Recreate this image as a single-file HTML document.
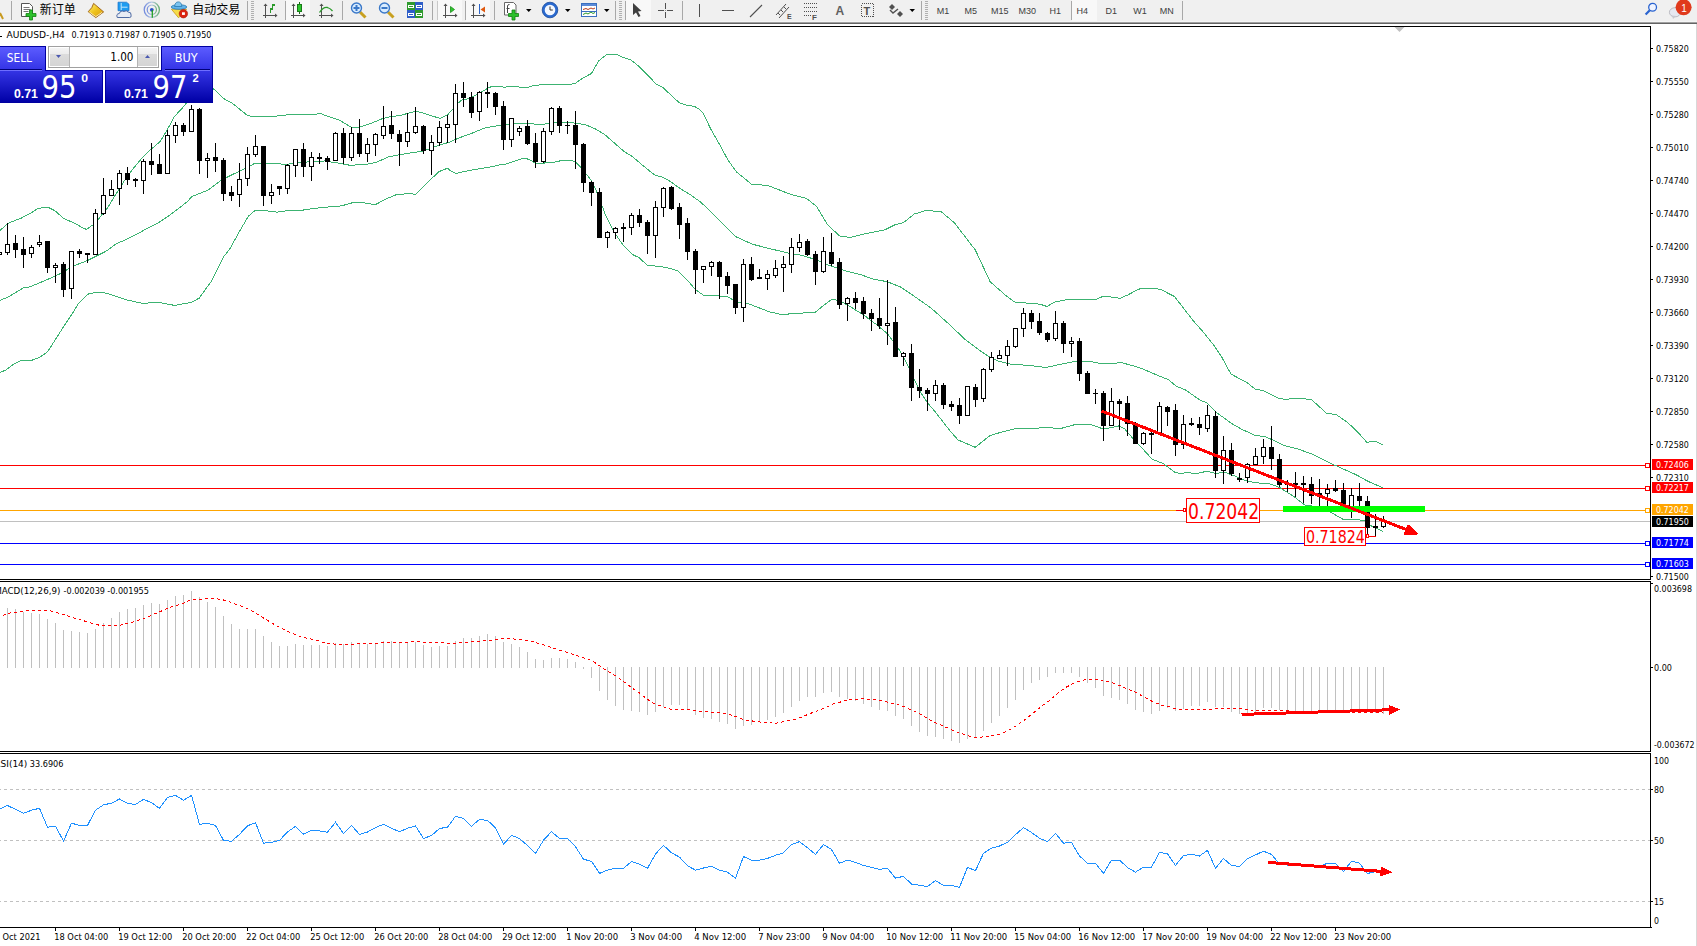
<!DOCTYPE html><html><head><meta charset="utf-8"><title>AUDUSD H4</title><style>html,body{margin:0;padding:0;background:#fff;overflow:hidden}body{width:1697px;height:946px}svg text{white-space:pre}</style></head><body><svg width="1697" height="946" viewBox="0 0 1697 946" shape-rendering="crispEdges" style="display:block">
<rect x="0" y="0" width="1697" height="946" fill="#fff"/>
<rect x="0" y="0" width="1697" height="21" fill="#f0f0f0"/>
<rect x="0" y="21" width="1697" height="1" fill="#f5f5f5"/>
<rect x="0" y="22" width="1697" height="1" fill="#a0a0a0"/>
<rect x="0" y="23" width="1697" height="1" fill="#646464"/>
<rect x="1696" y="24" width="1" height="922" fill="#d8d8d8"/>
<rect x="0" y="26" width="1651" height="1" fill="#000"/>
<rect x="1650" y="26" width="1" height="554" fill="#000"/>
<rect x="0" y="579" width="1651" height="1" fill="#000"/>
<rect x="0" y="581" width="1651" height="1" fill="#000"/>
<rect x="1650" y="581" width="1" height="171" fill="#000"/>
<rect x="0" y="751" width="1651" height="1" fill="#000"/>
<rect x="0" y="753" width="1651" height="1" fill="#000"/>
<rect x="1650" y="753" width="1" height="175" fill="#000"/>
<rect x="0" y="927" width="1652" height="1" fill="#000"/>
<defs><clipPath id="cm"><rect x="0" y="27" width="1650" height="552"/></clipPath><clipPath id="cd"><rect x="0" y="582" width="1650" height="169"/></clipPath><clipPath id="cr"><rect x="0" y="754" width="1650" height="173"/></clipPath></defs>
<g clip-path="url(#cm)">
<rect x="0" y="465" width="1650" height="1" fill="#ff0000"/>
<rect x="0" y="488" width="1650" height="1" fill="#ff0000"/>
<rect x="0" y="521" width="1650" height="1" fill="#c0c0c0"/>
<rect x="0" y="510" width="1650" height="1" fill="#ffa500"/>
<rect x="0" y="543" width="1650" height="1" fill="#0000ff"/>
<rect x="0" y="564" width="1650" height="1" fill="#0000ff"/>
<polyline points="0,230.4 7.7,223.6 15.3,220.3 20.6,218.6 24.7,216.2 30.6,213.3 37.7,208.6 43.6,207.4 48.3,207.4 54.8,210.6 63.1,218 66,219.5 76,223.9 81.3,227.1 86.6,229.5 91.9,225.3 94.3,224.5 99.6,217.6 107.2,208.4 115.4,195 123.8,181.5 132.3,169.6 140.7,159.5 149.2,151 156,145 160.1,141.6 167.2,129.8 174.3,116.8 179.6,110.9 184.9,105.3 191.5,94 199.5,87 207.5,85 215.1,90 223.3,98.4 232.9,103.7 247.7,115.7 251.9,116.4 274.7,116.3 290.9,114.5 314.8,114.5 320,113.1 325.8,115.7 339.8,120.3 351.4,127.3 358.4,127.3 370,123.8 382.1,118.8 390.5,116.7 400.1,115.5 416.2,111.1 425.5,113.8 439.9,118.4 447.5,115 450,112.2 457,104.1 461.6,100 468.6,98.8 475.6,95.3 482.6,91.3 489.5,87.2 494.2,86.3 500,86.6 504.7,87.2 511.6,86.3 516.3,86.6 522.1,87.6 529.1,87 533.7,85.5 550,84.1 570.2,84.3 575.4,83.4 579.6,80.1 585.3,76.8 591.4,73.5 594.7,67.8 598.9,60.7 606,55.1 607.9,54.3 616.4,54.3 622,57 630.5,59.8 636.2,64 643.7,71.1 651.3,78.7 656,84.3 662.6,87.1 673.9,98 679.5,102.7 686.1,105.1 694.6,106.5 700,109.8 702.7,112.7 711.1,129.6 719.6,144.4 728,160.2 736.5,171.9 751.3,184.1 768.2,185.6 791.5,194.7 806.3,198.3 816.8,206.7 827.4,224.7 840.1,236.3 850.6,237.4 863.3,234.2 884.5,230 895,224.7 903.5,222.6 914.1,214.1 926.7,210.3 941.5,212 954.2,222.6 975.4,250.1 990.2,281.8 1007.1,296.6 1015,302.2 1028.5,303.2 1040,304.2 1047.1,306.5 1054.1,302.1 1069.5,299.2 1096.6,299.2 1102.5,296.5 1107.2,296.5 1120.1,298.3 1128.4,294.7 1137.8,289.4 1142.5,288.3 1155.5,288.3 1161.4,289.8 1174.4,296.5 1181.4,305.4 1193.2,320.7 1202.7,331.4 1213.7,345.1 1222,357.5 1230.9,374 1237.1,377.4 1246.7,382.2 1255,389.1 1263.2,390.5 1278.4,398.3 1285.2,399.4 1296.2,398.3 1311.3,399.4 1326.5,413.2 1336.1,414.5 1347.1,422.1 1356.7,431 1367,442.4 1371.8,441.3 1375.9,441.3 1382.8,444.8" fill="none" stroke="#3cb371" stroke-width="1"/>
<polyline points="0,300.4 9.2,296.5 23,288.1 30.6,286.6 39.8,282.7 50.6,278.1 61.3,273.2 73.5,265.9 85.8,261.3 98.1,255.2 107.2,250.6 116.4,243.7 125.6,239.8 137.9,233.7 147.1,228.3 159.3,222.2 168.5,216.1 177.7,209.2 188.4,200.8 191.5,196.7 208.4,189.9 221.9,179.8 233.8,173.9 246.8,167.8 255.2,163.1 273.8,163.6 287.4,164.4 295.8,162.7 324.6,161 341.5,163.6 349.9,165.3 365.2,164.4 375.3,162.7 388.8,156.8 406.9,153.4 422.1,151.3 439,145.4 450,141.9 459.3,137.8 470.9,133.7 484.9,127.9 498.8,125.6 505.8,124.4 515.1,123.3 531.4,123.8 540,124.4 547,123.8 555.1,122.1 569.1,122.1 576,123.3 585.3,124.7 595.8,129.1 605.1,134.9 614.4,143 623.7,151.2 633,157 641.5,164.4 649.9,171.2 655.6,175.6 661.4,176.7 668.4,180.2 680,188.4 690.5,194.8 700.9,202.3 711.4,212.2 720.7,221.5 730,230.8 735.8,236.7 752.7,244.3 771.3,249 788.2,253.1 801.8,255.3 815.3,259.5 828.8,265.4 843.5,270.3 860.4,274.5 872.3,278.8 887.5,281.8 901,287.2 914.6,296.5 931.5,308.4 948.4,323.6 965.3,339.6 978.8,349.8 990,357.4 998.1,361 1011.6,364.4 1028.5,365.3 1045.5,367.5 1063.6,363.7 1075.4,361.3 1089.5,361.3 1101.3,363.7 1114.2,363.7 1120.1,362.2 1130,365 1133.5,365.9 1141.6,368.5 1149.8,372 1159.1,376 1168.4,379.5 1176.5,386.5 1180,387.7 1185.3,389.8 1200,400.1 1206.9,402.9 1216.5,412.5 1231.6,423.5 1241.2,429 1255,435.4 1264.6,436.5 1272.9,440 1285.2,445.9 1299,449.3 1312.7,454.4 1322.3,459.2 1329.6,462.9 1341.4,468.1 1356.2,474.8 1368.1,481.4 1382.9,487.8" fill="none" stroke="#3cb371" stroke-width="1"/>
<polyline points="0,372.5 6.3,369.8 13.7,364 21.1,360.6 31.7,360.3 39.1,357.7 47.6,351.8 56,338.6 63.4,327 71.9,314.3 78.2,303.7 87.7,294.2 92,293.2 100,292.1 107.2,293.5 116.4,296.5 125.6,299.6 142.5,303.4 157.8,302.3 174.7,305.4 191.5,302.3 199.2,298.1 211.4,281.2 223.7,256.7 229.8,249 239,232.2 248.5,216 255.2,210.4 267.1,210.9 277.2,212.1 290.7,210.1 300.9,210.4 314.4,208.4 331.3,206.7 341.5,205.9 355,202 365.2,203 375.3,204.7 385.5,199.1 396.8,194.5 410.3,193.6 415.4,194.5 423.8,186 439,171.6 447.5,168.2 450,170.3 455.8,173.6 465.1,171.3 480.2,168.6 490.7,166.9 498.8,165.1 505.8,164 512.8,161.6 519.8,159.3 525.6,158.1 531.4,160.8 536,163.4 540,163.4 554,162.2 563.3,160.2 570.2,160.2 574.9,161.6 580.7,167.4 586.5,174.4 591.2,180.2 594.7,187.2 598.1,195.3 601.6,204.7 605.9,216 613.5,231 622,243.7 632.1,254.3 638.9,257.6 647.4,265.3 659.2,266.4 667.7,267.8 677.8,270.8 688.8,281.8 695.6,289.8 703.7,295.3 727.4,296.4 735.8,301.8 747.7,303.5 769.6,311.9 781.5,314.5 798.4,313.3 815.3,312.3 823.8,305.2 832.2,299.2 840,300.9 850.3,306.7 863.8,315.1 877.4,325.3 887.5,333.7 900,351 907,363.7 914,378.8 920.9,392.8 927.9,403.3 934.9,411.4 943,421.9 951.2,432.3 958.1,440 975.3,447.3 989.6,435.8 1001.5,432.1 1015,428.7 1031.9,428.7 1045.5,427.3 1060,428.7 1075.4,424.5 1092.3,425 1103.3,429 1110.2,427.8 1118.4,426 1124.2,428.4 1128.8,433.6 1134.7,440.6 1140.5,446.4 1152.1,459.2 1163.7,463.8 1175.3,472.6 1180.9,473.5 1186.8,472.6 1196.1,473.5 1201.2,472.5 1207.1,471.2 1215.6,473.3 1225.4,472.5 1235.5,476.3 1244.4,480.1 1254.5,482.6 1271,484.1 1279.9,487.7 1293.9,496.6 1305.3,505.4 1308.9,505.1 1322.2,509.5 1331.1,512.5 1342.9,519.2 1359.2,519.9 1366.6,521.4 1371,525.8 1382.9,531.3" fill="none" stroke="#3cb371" stroke-width="1"/>
<rect x="-1" y="252" width="1" height="3" fill="#000"/>
<rect x="-3" y="252" width="5" height="3" fill="#000"/>
<rect x="-2" y="253" width="3" height="1" fill="#fff"/>
<rect x="7" y="223" width="1" height="32" fill="#000"/>
<rect x="5" y="244" width="5" height="9" fill="#000"/>
<rect x="6" y="245" width="3" height="7" fill="#fff"/>
<rect x="15" y="235" width="1" height="23" fill="#000"/>
<rect x="13" y="243" width="5" height="7" fill="#000"/>
<rect x="23" y="237" width="1" height="31" fill="#000"/>
<rect x="21" y="249" width="5" height="6" fill="#000"/>
<rect x="31" y="245" width="1" height="13" fill="#000"/>
<rect x="29" y="247" width="5" height="7" fill="#000"/>
<rect x="30" y="248" width="3" height="5" fill="#fff"/>
<rect x="39" y="235" width="1" height="12" fill="#000"/>
<rect x="37" y="242" width="5" height="3" fill="#000"/>
<rect x="38" y="243" width="3" height="1" fill="#fff"/>
<rect x="47" y="241" width="1" height="32" fill="#000"/>
<rect x="45" y="241" width="5" height="27" fill="#000"/>
<rect x="55" y="263" width="1" height="20" fill="#000"/>
<rect x="53" y="265" width="5" height="3" fill="#000"/>
<rect x="54" y="266" width="3" height="1" fill="#fff"/>
<rect x="63" y="262" width="1" height="35" fill="#000"/>
<rect x="61" y="264" width="5" height="26" fill="#000"/>
<rect x="71" y="251" width="1" height="48" fill="#000"/>
<rect x="69" y="251" width="5" height="38" fill="#000"/>
<rect x="70" y="252" width="3" height="36" fill="#fff"/>
<rect x="79" y="249" width="1" height="9" fill="#000"/>
<rect x="77" y="251" width="5" height="3" fill="#000"/>
<rect x="87" y="253" width="1" height="10" fill="#000"/>
<rect x="85" y="253" width="5" height="2" fill="#000"/>
<rect x="95" y="209" width="1" height="46" fill="#000"/>
<rect x="93" y="213" width="5" height="42" fill="#000"/>
<rect x="94" y="214" width="3" height="40" fill="#fff"/>
<rect x="103" y="178" width="1" height="37" fill="#000"/>
<rect x="101" y="195" width="5" height="19" fill="#000"/>
<rect x="102" y="196" width="3" height="17" fill="#fff"/>
<rect x="111" y="180" width="1" height="16" fill="#000"/>
<rect x="109" y="189" width="5" height="7" fill="#000"/>
<rect x="110" y="190" width="3" height="5" fill="#fff"/>
<rect x="119" y="170" width="1" height="35" fill="#000"/>
<rect x="117" y="173" width="5" height="16" fill="#000"/>
<rect x="118" y="174" width="3" height="14" fill="#fff"/>
<rect x="127" y="167" width="1" height="18" fill="#000"/>
<rect x="125" y="173" width="5" height="7" fill="#000"/>
<rect x="135" y="178" width="1" height="9" fill="#000"/>
<rect x="133" y="179" width="5" height="2" fill="#000"/>
<rect x="143" y="159" width="1" height="35" fill="#000"/>
<rect x="141" y="161" width="5" height="20" fill="#000"/>
<rect x="142" y="162" width="3" height="18" fill="#fff"/>
<rect x="151" y="143" width="1" height="32" fill="#000"/>
<rect x="149" y="161" width="5" height="4" fill="#000"/>
<rect x="159" y="154" width="1" height="20" fill="#000"/>
<rect x="157" y="164" width="5" height="10" fill="#000"/>
<rect x="167" y="130" width="1" height="44" fill="#000"/>
<rect x="165" y="135" width="5" height="39" fill="#000"/>
<rect x="166" y="136" width="3" height="37" fill="#fff"/>
<rect x="175" y="122" width="1" height="21" fill="#000"/>
<rect x="173" y="125" width="5" height="11" fill="#000"/>
<rect x="174" y="126" width="3" height="9" fill="#fff"/>
<rect x="183" y="123" width="1" height="13" fill="#000"/>
<rect x="181" y="125" width="5" height="7" fill="#000"/>
<rect x="191" y="105" width="1" height="27" fill="#000"/>
<rect x="189" y="109" width="5" height="23" fill="#000"/>
<rect x="190" y="110" width="3" height="21" fill="#fff"/>
<rect x="199" y="108" width="1" height="66" fill="#000"/>
<rect x="197" y="109" width="5" height="52" fill="#000"/>
<rect x="207" y="153" width="1" height="25" fill="#000"/>
<rect x="205" y="158" width="5" height="3" fill="#000"/>
<rect x="206" y="159" width="3" height="1" fill="#fff"/>
<rect x="215" y="143" width="1" height="29" fill="#000"/>
<rect x="213" y="157" width="5" height="4" fill="#000"/>
<rect x="223" y="158" width="1" height="43" fill="#000"/>
<rect x="221" y="160" width="5" height="34" fill="#000"/>
<rect x="231" y="186" width="1" height="15" fill="#000"/>
<rect x="229" y="192" width="5" height="4" fill="#000"/>
<rect x="239" y="163" width="1" height="44" fill="#000"/>
<rect x="237" y="179" width="5" height="16" fill="#000"/>
<rect x="238" y="180" width="3" height="14" fill="#fff"/>
<rect x="247" y="147" width="1" height="39" fill="#000"/>
<rect x="245" y="154" width="5" height="25" fill="#000"/>
<rect x="246" y="155" width="3" height="23" fill="#fff"/>
<rect x="255" y="135" width="1" height="22" fill="#000"/>
<rect x="253" y="146" width="5" height="9" fill="#000"/>
<rect x="254" y="147" width="3" height="7" fill="#fff"/>
<rect x="263" y="146" width="1" height="60" fill="#000"/>
<rect x="261" y="146" width="5" height="50" fill="#000"/>
<rect x="271" y="184" width="1" height="20" fill="#000"/>
<rect x="269" y="192" width="5" height="4" fill="#000"/>
<rect x="270" y="193" width="3" height="2" fill="#fff"/>
<rect x="279" y="186" width="1" height="9" fill="#000"/>
<rect x="277" y="186" width="5" height="3" fill="#000"/>
<rect x="287" y="164" width="1" height="30" fill="#000"/>
<rect x="285" y="165" width="5" height="24" fill="#000"/>
<rect x="286" y="166" width="3" height="22" fill="#fff"/>
<rect x="295" y="149" width="1" height="28" fill="#000"/>
<rect x="293" y="149" width="5" height="17" fill="#000"/>
<rect x="294" y="150" width="3" height="15" fill="#fff"/>
<rect x="303" y="143" width="1" height="34" fill="#000"/>
<rect x="301" y="149" width="5" height="18" fill="#000"/>
<rect x="311" y="152" width="1" height="29" fill="#000"/>
<rect x="309" y="157" width="5" height="10" fill="#000"/>
<rect x="310" y="158" width="3" height="8" fill="#fff"/>
<rect x="319" y="153" width="1" height="11" fill="#000"/>
<rect x="317" y="157" width="5" height="2" fill="#000"/>
<rect x="327" y="156" width="1" height="14" fill="#000"/>
<rect x="325" y="158" width="5" height="4" fill="#000"/>
<rect x="335" y="132" width="1" height="29" fill="#000"/>
<rect x="333" y="133" width="5" height="28" fill="#000"/>
<rect x="334" y="134" width="3" height="26" fill="#fff"/>
<rect x="343" y="128" width="1" height="36" fill="#000"/>
<rect x="341" y="133" width="5" height="25" fill="#000"/>
<rect x="351" y="127" width="1" height="34" fill="#000"/>
<rect x="349" y="133" width="5" height="25" fill="#000"/>
<rect x="350" y="134" width="3" height="23" fill="#fff"/>
<rect x="359" y="119" width="1" height="38" fill="#000"/>
<rect x="357" y="133" width="5" height="21" fill="#000"/>
<rect x="367" y="138" width="1" height="24" fill="#000"/>
<rect x="365" y="144" width="5" height="10" fill="#000"/>
<rect x="366" y="145" width="3" height="8" fill="#fff"/>
<rect x="375" y="133" width="1" height="23" fill="#000"/>
<rect x="373" y="134" width="5" height="11" fill="#000"/>
<rect x="374" y="135" width="3" height="9" fill="#fff"/>
<rect x="383" y="106" width="1" height="33" fill="#000"/>
<rect x="381" y="126" width="5" height="10" fill="#000"/>
<rect x="382" y="127" width="3" height="8" fill="#fff"/>
<rect x="391" y="111" width="1" height="28" fill="#000"/>
<rect x="389" y="125" width="5" height="9" fill="#000"/>
<rect x="399" y="130" width="1" height="36" fill="#000"/>
<rect x="397" y="134" width="5" height="8" fill="#000"/>
<rect x="407" y="113" width="1" height="34" fill="#000"/>
<rect x="405" y="132" width="5" height="10" fill="#000"/>
<rect x="406" y="133" width="3" height="8" fill="#fff"/>
<rect x="415" y="107" width="1" height="27" fill="#000"/>
<rect x="413" y="126" width="5" height="7" fill="#000"/>
<rect x="414" y="127" width="3" height="5" fill="#fff"/>
<rect x="423" y="125" width="1" height="29" fill="#000"/>
<rect x="421" y="126" width="5" height="25" fill="#000"/>
<rect x="431" y="135" width="1" height="40" fill="#000"/>
<rect x="429" y="142" width="5" height="9" fill="#000"/>
<rect x="430" y="143" width="3" height="7" fill="#fff"/>
<rect x="439" y="121" width="1" height="25" fill="#000"/>
<rect x="437" y="127" width="5" height="16" fill="#000"/>
<rect x="438" y="128" width="3" height="14" fill="#fff"/>
<rect x="447" y="115" width="1" height="28" fill="#000"/>
<rect x="445" y="124" width="5" height="4" fill="#000"/>
<rect x="446" y="125" width="3" height="2" fill="#fff"/>
<rect x="455" y="84" width="1" height="59" fill="#000"/>
<rect x="453" y="93" width="5" height="32" fill="#000"/>
<rect x="454" y="94" width="3" height="30" fill="#fff"/>
<rect x="463" y="82" width="1" height="25" fill="#000"/>
<rect x="461" y="93" width="5" height="5" fill="#000"/>
<rect x="471" y="92" width="1" height="26" fill="#000"/>
<rect x="469" y="97" width="5" height="16" fill="#000"/>
<rect x="479" y="91" width="1" height="30" fill="#000"/>
<rect x="477" y="92" width="5" height="20" fill="#000"/>
<rect x="478" y="93" width="3" height="18" fill="#fff"/>
<rect x="487" y="82" width="1" height="26" fill="#000"/>
<rect x="485" y="92" width="5" height="2" fill="#000"/>
<rect x="495" y="92" width="1" height="23" fill="#000"/>
<rect x="493" y="93" width="5" height="14" fill="#000"/>
<rect x="503" y="101" width="1" height="49" fill="#000"/>
<rect x="501" y="106" width="5" height="34" fill="#000"/>
<rect x="511" y="118" width="1" height="29" fill="#000"/>
<rect x="509" y="118" width="5" height="22" fill="#000"/>
<rect x="510" y="119" width="3" height="20" fill="#fff"/>
<rect x="519" y="126" width="1" height="10" fill="#000"/>
<rect x="517" y="128" width="5" height="4" fill="#000"/>
<rect x="518" y="129" width="3" height="2" fill="#fff"/>
<rect x="527" y="120" width="1" height="25" fill="#000"/>
<rect x="525" y="126" width="5" height="18" fill="#000"/>
<rect x="535" y="133" width="1" height="35" fill="#000"/>
<rect x="533" y="143" width="5" height="19" fill="#000"/>
<rect x="543" y="128" width="1" height="35" fill="#000"/>
<rect x="541" y="131" width="5" height="31" fill="#000"/>
<rect x="542" y="132" width="3" height="29" fill="#fff"/>
<rect x="551" y="107" width="1" height="28" fill="#000"/>
<rect x="549" y="108" width="5" height="24" fill="#000"/>
<rect x="550" y="109" width="3" height="22" fill="#fff"/>
<rect x="559" y="106" width="1" height="27" fill="#000"/>
<rect x="557" y="108" width="5" height="18" fill="#000"/>
<rect x="567" y="121" width="1" height="13" fill="#000"/>
<rect x="565" y="125" width="5" height="1" fill="#000"/>
<rect x="575" y="111" width="1" height="58" fill="#000"/>
<rect x="573" y="125" width="5" height="20" fill="#000"/>
<rect x="583" y="143" width="1" height="49" fill="#000"/>
<rect x="581" y="144" width="5" height="39" fill="#000"/>
<rect x="591" y="181" width="1" height="25" fill="#000"/>
<rect x="589" y="182" width="5" height="11" fill="#000"/>
<rect x="599" y="188" width="1" height="50" fill="#000"/>
<rect x="597" y="192" width="5" height="46" fill="#000"/>
<rect x="607" y="231" width="1" height="17" fill="#000"/>
<rect x="605" y="232" width="5" height="6" fill="#000"/>
<rect x="606" y="233" width="3" height="4" fill="#fff"/>
<rect x="615" y="227" width="1" height="12" fill="#000"/>
<rect x="613" y="228" width="5" height="5" fill="#000"/>
<rect x="614" y="229" width="3" height="3" fill="#fff"/>
<rect x="623" y="223" width="1" height="19" fill="#000"/>
<rect x="621" y="227" width="5" height="2" fill="#000"/>
<rect x="631" y="213" width="1" height="22" fill="#000"/>
<rect x="629" y="215" width="5" height="13" fill="#000"/>
<rect x="630" y="216" width="3" height="11" fill="#fff"/>
<rect x="639" y="209" width="1" height="18" fill="#000"/>
<rect x="637" y="215" width="5" height="8" fill="#000"/>
<rect x="647" y="220" width="1" height="34" fill="#000"/>
<rect x="645" y="222" width="5" height="14" fill="#000"/>
<rect x="655" y="201" width="1" height="57" fill="#000"/>
<rect x="653" y="207" width="5" height="29" fill="#000"/>
<rect x="654" y="208" width="3" height="27" fill="#fff"/>
<rect x="663" y="187" width="1" height="30" fill="#000"/>
<rect x="661" y="188" width="5" height="20" fill="#000"/>
<rect x="662" y="189" width="3" height="18" fill="#fff"/>
<rect x="671" y="186" width="1" height="24" fill="#000"/>
<rect x="669" y="187" width="5" height="22" fill="#000"/>
<rect x="679" y="203" width="1" height="36" fill="#000"/>
<rect x="677" y="207" width="5" height="18" fill="#000"/>
<rect x="687" y="218" width="1" height="42" fill="#000"/>
<rect x="685" y="223" width="5" height="29" fill="#000"/>
<rect x="695" y="249" width="1" height="45" fill="#000"/>
<rect x="693" y="251" width="5" height="19" fill="#000"/>
<rect x="703" y="266" width="1" height="17" fill="#000"/>
<rect x="701" y="266" width="5" height="4" fill="#000"/>
<rect x="702" y="267" width="3" height="2" fill="#fff"/>
<rect x="711" y="261" width="1" height="15" fill="#000"/>
<rect x="709" y="262" width="5" height="5" fill="#000"/>
<rect x="710" y="263" width="3" height="3" fill="#fff"/>
<rect x="719" y="261" width="1" height="38" fill="#000"/>
<rect x="717" y="262" width="5" height="15" fill="#000"/>
<rect x="727" y="272" width="1" height="22" fill="#000"/>
<rect x="725" y="276" width="5" height="10" fill="#000"/>
<rect x="735" y="284" width="1" height="30" fill="#000"/>
<rect x="733" y="284" width="5" height="24" fill="#000"/>
<rect x="743" y="259" width="1" height="63" fill="#000"/>
<rect x="741" y="264" width="5" height="44" fill="#000"/>
<rect x="742" y="265" width="3" height="42" fill="#fff"/>
<rect x="751" y="257" width="1" height="24" fill="#000"/>
<rect x="749" y="264" width="5" height="16" fill="#000"/>
<rect x="759" y="269" width="1" height="10" fill="#000"/>
<rect x="757" y="277" width="5" height="2" fill="#000"/>
<rect x="767" y="270" width="1" height="20" fill="#000"/>
<rect x="765" y="274" width="5" height="5" fill="#000"/>
<rect x="766" y="275" width="3" height="3" fill="#fff"/>
<rect x="775" y="260" width="1" height="18" fill="#000"/>
<rect x="773" y="268" width="5" height="8" fill="#000"/>
<rect x="774" y="269" width="3" height="6" fill="#fff"/>
<rect x="783" y="256" width="1" height="36" fill="#000"/>
<rect x="781" y="264" width="5" height="4" fill="#000"/>
<rect x="782" y="265" width="3" height="2" fill="#fff"/>
<rect x="791" y="238" width="1" height="35" fill="#000"/>
<rect x="789" y="247" width="5" height="18" fill="#000"/>
<rect x="790" y="248" width="3" height="16" fill="#fff"/>
<rect x="799" y="234" width="1" height="18" fill="#000"/>
<rect x="797" y="242" width="5" height="6" fill="#000"/>
<rect x="798" y="243" width="3" height="4" fill="#fff"/>
<rect x="807" y="239" width="1" height="17" fill="#000"/>
<rect x="805" y="241" width="5" height="14" fill="#000"/>
<rect x="815" y="251" width="1" height="34" fill="#000"/>
<rect x="813" y="254" width="5" height="18" fill="#000"/>
<rect x="823" y="237" width="1" height="36" fill="#000"/>
<rect x="821" y="251" width="5" height="21" fill="#000"/>
<rect x="822" y="252" width="3" height="19" fill="#fff"/>
<rect x="831" y="233" width="1" height="33" fill="#000"/>
<rect x="829" y="252" width="5" height="12" fill="#000"/>
<rect x="839" y="258" width="1" height="51" fill="#000"/>
<rect x="837" y="262" width="5" height="43" fill="#000"/>
<rect x="847" y="297" width="1" height="24" fill="#000"/>
<rect x="845" y="298" width="5" height="6" fill="#000"/>
<rect x="846" y="299" width="3" height="4" fill="#fff"/>
<rect x="855" y="292" width="1" height="17" fill="#000"/>
<rect x="853" y="298" width="5" height="5" fill="#000"/>
<rect x="863" y="297" width="1" height="22" fill="#000"/>
<rect x="861" y="301" width="5" height="13" fill="#000"/>
<rect x="871" y="309" width="1" height="22" fill="#000"/>
<rect x="869" y="313" width="5" height="6" fill="#000"/>
<rect x="879" y="298" width="1" height="31" fill="#000"/>
<rect x="877" y="318" width="5" height="8" fill="#000"/>
<rect x="887" y="280" width="1" height="65" fill="#000"/>
<rect x="885" y="323" width="5" height="3" fill="#000"/>
<rect x="886" y="324" width="3" height="1" fill="#fff"/>
<rect x="895" y="307" width="1" height="50" fill="#000"/>
<rect x="893" y="322" width="5" height="35" fill="#000"/>
<rect x="903" y="352" width="1" height="14" fill="#000"/>
<rect x="901" y="353" width="5" height="4" fill="#000"/>
<rect x="902" y="354" width="3" height="2" fill="#fff"/>
<rect x="911" y="344" width="1" height="57" fill="#000"/>
<rect x="909" y="353" width="5" height="35" fill="#000"/>
<rect x="919" y="369" width="1" height="29" fill="#000"/>
<rect x="917" y="387" width="5" height="4" fill="#000"/>
<rect x="927" y="388" width="1" height="23" fill="#000"/>
<rect x="925" y="390" width="5" height="4" fill="#000"/>
<rect x="935" y="380" width="1" height="21" fill="#000"/>
<rect x="933" y="385" width="5" height="9" fill="#000"/>
<rect x="934" y="386" width="3" height="7" fill="#fff"/>
<rect x="943" y="383" width="1" height="26" fill="#000"/>
<rect x="941" y="385" width="5" height="20" fill="#000"/>
<rect x="951" y="401" width="1" height="10" fill="#000"/>
<rect x="949" y="404" width="5" height="3" fill="#000"/>
<rect x="959" y="398" width="1" height="26" fill="#000"/>
<rect x="957" y="405" width="5" height="11" fill="#000"/>
<rect x="967" y="386" width="1" height="30" fill="#000"/>
<rect x="965" y="386" width="5" height="30" fill="#000"/>
<rect x="966" y="387" width="3" height="28" fill="#fff"/>
<rect x="975" y="384" width="1" height="23" fill="#000"/>
<rect x="973" y="387" width="5" height="13" fill="#000"/>
<rect x="983" y="368" width="1" height="34" fill="#000"/>
<rect x="981" y="369" width="5" height="30" fill="#000"/>
<rect x="982" y="370" width="3" height="28" fill="#fff"/>
<rect x="991" y="352" width="1" height="20" fill="#000"/>
<rect x="989" y="357" width="5" height="13" fill="#000"/>
<rect x="990" y="358" width="3" height="11" fill="#fff"/>
<rect x="999" y="350" width="1" height="9" fill="#000"/>
<rect x="997" y="355" width="5" height="4" fill="#000"/>
<rect x="998" y="356" width="3" height="2" fill="#fff"/>
<rect x="1007" y="340" width="1" height="26" fill="#000"/>
<rect x="1005" y="346" width="5" height="10" fill="#000"/>
<rect x="1006" y="347" width="3" height="8" fill="#fff"/>
<rect x="1015" y="328" width="1" height="20" fill="#000"/>
<rect x="1013" y="328" width="5" height="19" fill="#000"/>
<rect x="1014" y="329" width="3" height="17" fill="#fff"/>
<rect x="1023" y="308" width="1" height="29" fill="#000"/>
<rect x="1021" y="313" width="5" height="16" fill="#000"/>
<rect x="1022" y="314" width="3" height="14" fill="#fff"/>
<rect x="1031" y="310" width="1" height="19" fill="#000"/>
<rect x="1029" y="313" width="5" height="9" fill="#000"/>
<rect x="1039" y="313" width="1" height="22" fill="#000"/>
<rect x="1037" y="321" width="5" height="12" fill="#000"/>
<rect x="1047" y="332" width="1" height="10" fill="#000"/>
<rect x="1045" y="333" width="5" height="7" fill="#000"/>
<rect x="1055" y="311" width="1" height="30" fill="#000"/>
<rect x="1053" y="323" width="5" height="16" fill="#000"/>
<rect x="1054" y="324" width="3" height="14" fill="#fff"/>
<rect x="1063" y="321" width="1" height="32" fill="#000"/>
<rect x="1061" y="323" width="5" height="21" fill="#000"/>
<rect x="1071" y="337" width="1" height="20" fill="#000"/>
<rect x="1069" y="341" width="5" height="3" fill="#000"/>
<rect x="1070" y="342" width="3" height="1" fill="#fff"/>
<rect x="1079" y="338" width="1" height="43" fill="#000"/>
<rect x="1077" y="341" width="5" height="33" fill="#000"/>
<rect x="1087" y="371" width="1" height="23" fill="#000"/>
<rect x="1085" y="373" width="5" height="21" fill="#000"/>
<rect x="1095" y="389" width="1" height="15" fill="#000"/>
<rect x="1093" y="393" width="5" height="1" fill="#000"/>
<rect x="1103" y="391" width="1" height="50" fill="#000"/>
<rect x="1101" y="393" width="5" height="33" fill="#000"/>
<rect x="1111" y="388" width="1" height="38" fill="#000"/>
<rect x="1109" y="401" width="5" height="25" fill="#000"/>
<rect x="1110" y="402" width="3" height="23" fill="#fff"/>
<rect x="1119" y="399" width="1" height="31" fill="#000"/>
<rect x="1117" y="401" width="5" height="3" fill="#000"/>
<rect x="1127" y="396" width="1" height="40" fill="#000"/>
<rect x="1125" y="403" width="5" height="21" fill="#000"/>
<rect x="1135" y="422" width="1" height="22" fill="#000"/>
<rect x="1133" y="423" width="5" height="21" fill="#000"/>
<rect x="1143" y="432" width="1" height="13" fill="#000"/>
<rect x="1141" y="433" width="5" height="11" fill="#000"/>
<rect x="1142" y="434" width="3" height="9" fill="#fff"/>
<rect x="1151" y="431" width="1" height="23" fill="#000"/>
<rect x="1149" y="433" width="5" height="2" fill="#000"/>
<rect x="1159" y="402" width="1" height="31" fill="#000"/>
<rect x="1157" y="406" width="5" height="27" fill="#000"/>
<rect x="1158" y="407" width="3" height="25" fill="#fff"/>
<rect x="1167" y="406" width="1" height="20" fill="#000"/>
<rect x="1165" y="407" width="5" height="5" fill="#000"/>
<rect x="1175" y="404" width="1" height="52" fill="#000"/>
<rect x="1173" y="410" width="5" height="35" fill="#000"/>
<rect x="1183" y="415" width="1" height="34" fill="#000"/>
<rect x="1181" y="424" width="5" height="21" fill="#000"/>
<rect x="1182" y="425" width="3" height="19" fill="#fff"/>
<rect x="1191" y="418" width="1" height="8" fill="#000"/>
<rect x="1189" y="423" width="5" height="2" fill="#000"/>
<rect x="1199" y="417" width="1" height="18" fill="#000"/>
<rect x="1197" y="424" width="5" height="4" fill="#000"/>
<rect x="1207" y="405" width="1" height="27" fill="#000"/>
<rect x="1205" y="415" width="5" height="14" fill="#000"/>
<rect x="1206" y="416" width="3" height="12" fill="#fff"/>
<rect x="1215" y="411" width="1" height="67" fill="#000"/>
<rect x="1213" y="416" width="5" height="55" fill="#000"/>
<rect x="1223" y="436" width="1" height="48" fill="#000"/>
<rect x="1221" y="450" width="5" height="21" fill="#000"/>
<rect x="1222" y="451" width="3" height="19" fill="#fff"/>
<rect x="1231" y="443" width="1" height="33" fill="#000"/>
<rect x="1229" y="450" width="5" height="24" fill="#000"/>
<rect x="1239" y="473" width="1" height="9" fill="#000"/>
<rect x="1237" y="478" width="5" height="2" fill="#000"/>
<rect x="1247" y="463" width="1" height="20" fill="#000"/>
<rect x="1245" y="464" width="5" height="14" fill="#000"/>
<rect x="1246" y="465" width="3" height="12" fill="#fff"/>
<rect x="1255" y="448" width="1" height="17" fill="#000"/>
<rect x="1253" y="456" width="5" height="9" fill="#000"/>
<rect x="1254" y="457" width="3" height="7" fill="#fff"/>
<rect x="1263" y="439" width="1" height="25" fill="#000"/>
<rect x="1261" y="447" width="5" height="10" fill="#000"/>
<rect x="1262" y="448" width="3" height="8" fill="#fff"/>
<rect x="1271" y="426" width="1" height="44" fill="#000"/>
<rect x="1269" y="447" width="5" height="12" fill="#000"/>
<rect x="1279" y="454" width="1" height="33" fill="#000"/>
<rect x="1277" y="459" width="5" height="26" fill="#000"/>
<rect x="1287" y="480" width="1" height="12" fill="#000"/>
<rect x="1285" y="483" width="5" height="2" fill="#000"/>
<rect x="1295" y="472" width="1" height="25" fill="#000"/>
<rect x="1293" y="483" width="5" height="2" fill="#000"/>
<rect x="1303" y="476" width="1" height="27" fill="#000"/>
<rect x="1301" y="483" width="5" height="2" fill="#000"/>
<rect x="1311" y="477" width="1" height="27" fill="#000"/>
<rect x="1309" y="484" width="5" height="12" fill="#000"/>
<rect x="1319" y="479" width="1" height="27" fill="#000"/>
<rect x="1317" y="493" width="5" height="2" fill="#000"/>
<rect x="1327" y="484" width="1" height="22" fill="#000"/>
<rect x="1325" y="489" width="5" height="5" fill="#000"/>
<rect x="1326" y="490" width="3" height="3" fill="#fff"/>
<rect x="1335" y="480" width="1" height="12" fill="#000"/>
<rect x="1333" y="488" width="5" height="3" fill="#000"/>
<rect x="1343" y="483" width="1" height="23" fill="#000"/>
<rect x="1341" y="490" width="5" height="15" fill="#000"/>
<rect x="1351" y="488" width="1" height="30" fill="#000"/>
<rect x="1349" y="495" width="5" height="13" fill="#000"/>
<rect x="1350" y="496" width="3" height="11" fill="#fff"/>
<rect x="1359" y="483" width="1" height="23" fill="#000"/>
<rect x="1357" y="496" width="5" height="5" fill="#000"/>
<rect x="1367" y="496" width="1" height="39" fill="#000"/>
<rect x="1365" y="501" width="5" height="27" fill="#000"/>
<rect x="1375" y="514" width="1" height="23" fill="#000"/>
<rect x="1373" y="526" width="5" height="2" fill="#000"/>
<rect x="1383" y="516" width="1" height="12" fill="#000"/>
<rect x="1381" y="520" width="5" height="7" fill="#000"/>
<rect x="1382" y="521" width="3" height="5" fill="#fff"/>
<rect x="1645.5" y="463.5" width="4" height="4" fill="#fff" stroke="#ff0000" stroke-width="1"/>
<rect x="1645.5" y="486.5" width="4" height="4" fill="#fff" stroke="#ff0000" stroke-width="1"/>
<rect x="1645.5" y="508.5" width="4" height="4" fill="#fff" stroke="#ffa500" stroke-width="1"/>
<rect x="1645.5" y="541.5" width="4" height="4" fill="#fff" stroke="#0000ff" stroke-width="1"/>
<rect x="1645.5" y="562.5" width="4" height="4" fill="#fff" stroke="#0000ff" stroke-width="1"/>
<rect x="1283" y="506" width="142" height="6" fill="#00ff00"/>
<rect x="1176" y="510" width="8" height="1" fill="#ff0000"/>
<rect x="1183.5" y="508.5" width="2" height="3" fill="#fff" stroke="#ff0000" stroke-width="1"/>
<rect x="1186.5" y="498.5" width="73" height="24" fill="#fff" stroke="#ff0000" stroke-width="1"/>
<text x="1188" y="519" font-family='"DejaVu Sans Condensed", "DejaVu Sans", sans-serif' font-size="21.8" fill="#ff0000" text-anchor="start" textLength="71.2" lengthAdjust="spacingAndGlyphs">0.72042</text>
<rect x="1304.5" y="527.5" width="61" height="18" fill="#fff" stroke="#ff0000" stroke-width="1"/>
<text x="1306" y="542.5" font-family='"DejaVu Sans Condensed", "DejaVu Sans", sans-serif' font-size="18" fill="#ff0000" text-anchor="start" textLength="58.8" lengthAdjust="spacingAndGlyphs">0.71824</text>
<rect x="1366.5" y="534.5" width="2" height="3" fill="#fff" stroke="#ff0000" stroke-width="1"/>
<rect x="1369" y="536" width="7" height="1" fill="#ff0000"/>
<g>
<line x1="1101.6" y1="411" x2="1410" y2="531" stroke="#ff0000" stroke-width="3"/>
<polygon points="1407.5,524.8 1409.5,524.8 1417.8,533.5 1416.3,535.2 1404.5,535.2 1403.5,533.8" fill="#ff0000"/>
</g>
</g>
<polygon points="1394.5,27 1404.5,27 1399.5,32" fill="#c0c0c0" shape-rendering="auto"/>
<rect x="1651" y="48" width="2" height="1" fill="#000"/>
<text x="1656" y="52" font-family='"DejaVu Sans Condensed", "DejaVu Sans", sans-serif' font-size="9.1" fill="#000" text-anchor="start" textLength="32.8" lengthAdjust="spacingAndGlyphs">0.75820</text>
<rect x="1651" y="81" width="2" height="1" fill="#000"/>
<text x="1656" y="85" font-family='"DejaVu Sans Condensed", "DejaVu Sans", sans-serif' font-size="9.1" fill="#000" text-anchor="start" textLength="32.8" lengthAdjust="spacingAndGlyphs">0.75550</text>
<rect x="1651" y="114" width="2" height="1" fill="#000"/>
<text x="1656" y="118" font-family='"DejaVu Sans Condensed", "DejaVu Sans", sans-serif' font-size="9.1" fill="#000" text-anchor="start" textLength="32.8" lengthAdjust="spacingAndGlyphs">0.75280</text>
<rect x="1651" y="147" width="2" height="1" fill="#000"/>
<text x="1656" y="151" font-family='"DejaVu Sans Condensed", "DejaVu Sans", sans-serif' font-size="9.1" fill="#000" text-anchor="start" textLength="32.8" lengthAdjust="spacingAndGlyphs">0.75010</text>
<rect x="1651" y="180" width="2" height="1" fill="#000"/>
<text x="1656" y="184" font-family='"DejaVu Sans Condensed", "DejaVu Sans", sans-serif' font-size="9.1" fill="#000" text-anchor="start" textLength="32.8" lengthAdjust="spacingAndGlyphs">0.74740</text>
<rect x="1651" y="213" width="2" height="1" fill="#000"/>
<text x="1656" y="217" font-family='"DejaVu Sans Condensed", "DejaVu Sans", sans-serif' font-size="9.1" fill="#000" text-anchor="start" textLength="32.8" lengthAdjust="spacingAndGlyphs">0.74470</text>
<rect x="1651" y="246" width="2" height="1" fill="#000"/>
<text x="1656" y="250" font-family='"DejaVu Sans Condensed", "DejaVu Sans", sans-serif' font-size="9.1" fill="#000" text-anchor="start" textLength="32.8" lengthAdjust="spacingAndGlyphs">0.74200</text>
<rect x="1651" y="279" width="2" height="1" fill="#000"/>
<text x="1656" y="283" font-family='"DejaVu Sans Condensed", "DejaVu Sans", sans-serif' font-size="9.1" fill="#000" text-anchor="start" textLength="32.8" lengthAdjust="spacingAndGlyphs">0.73930</text>
<rect x="1651" y="312" width="2" height="1" fill="#000"/>
<text x="1656" y="316" font-family='"DejaVu Sans Condensed", "DejaVu Sans", sans-serif' font-size="9.1" fill="#000" text-anchor="start" textLength="32.8" lengthAdjust="spacingAndGlyphs">0.73660</text>
<rect x="1651" y="345" width="2" height="1" fill="#000"/>
<text x="1656" y="349" font-family='"DejaVu Sans Condensed", "DejaVu Sans", sans-serif' font-size="9.1" fill="#000" text-anchor="start" textLength="32.8" lengthAdjust="spacingAndGlyphs">0.73390</text>
<rect x="1651" y="378" width="2" height="1" fill="#000"/>
<text x="1656" y="382" font-family='"DejaVu Sans Condensed", "DejaVu Sans", sans-serif' font-size="9.1" fill="#000" text-anchor="start" textLength="32.8" lengthAdjust="spacingAndGlyphs">0.73120</text>
<rect x="1651" y="411" width="2" height="1" fill="#000"/>
<text x="1656" y="415" font-family='"DejaVu Sans Condensed", "DejaVu Sans", sans-serif' font-size="9.1" fill="#000" text-anchor="start" textLength="32.8" lengthAdjust="spacingAndGlyphs">0.72850</text>
<rect x="1651" y="444" width="2" height="1" fill="#000"/>
<text x="1656" y="448" font-family='"DejaVu Sans Condensed", "DejaVu Sans", sans-serif' font-size="9.1" fill="#000" text-anchor="start" textLength="32.8" lengthAdjust="spacingAndGlyphs">0.72580</text>
<rect x="1651" y="477" width="2" height="1" fill="#000"/>
<text x="1656" y="481" font-family='"DejaVu Sans Condensed", "DejaVu Sans", sans-serif' font-size="9.1" fill="#000" text-anchor="start" textLength="32.8" lengthAdjust="spacingAndGlyphs">0.72310</text>
<rect x="1651" y="576" width="2" height="1" fill="#000"/>
<text x="1656" y="580" font-family='"DejaVu Sans Condensed", "DejaVu Sans", sans-serif' font-size="9.1" fill="#000" text-anchor="start" textLength="32.8" lengthAdjust="spacingAndGlyphs">0.71500</text>
<rect x="1652" y="459" width="41" height="11" fill="#ff0000"/>
<text x="1656" y="468" font-family='"DejaVu Sans Condensed", "DejaVu Sans", sans-serif' font-size="9.1" fill="#fff" text-anchor="start" textLength="32.8" lengthAdjust="spacingAndGlyphs">0.72406</text>
<rect x="1652" y="482" width="41" height="11" fill="#ff0000"/>
<text x="1656" y="491" font-family='"DejaVu Sans Condensed", "DejaVu Sans", sans-serif' font-size="9.1" fill="#fff" text-anchor="start" textLength="32.8" lengthAdjust="spacingAndGlyphs">0.72217</text>
<rect x="1652" y="504" width="41" height="11" fill="#ffa500"/>
<text x="1656" y="513" font-family='"DejaVu Sans Condensed", "DejaVu Sans", sans-serif' font-size="9.1" fill="#fff" text-anchor="start" textLength="32.8" lengthAdjust="spacingAndGlyphs">0.72042</text>
<rect x="1652" y="516" width="41" height="11" fill="#000000"/>
<text x="1656" y="525" font-family='"DejaVu Sans Condensed", "DejaVu Sans", sans-serif' font-size="9.1" fill="#fff" text-anchor="start" textLength="32.8" lengthAdjust="spacingAndGlyphs">0.71950</text>
<rect x="1652" y="537" width="41" height="11" fill="#0000ff"/>
<text x="1656" y="546" font-family='"DejaVu Sans Condensed", "DejaVu Sans", sans-serif' font-size="9.1" fill="#fff" text-anchor="start" textLength="32.8" lengthAdjust="spacingAndGlyphs">0.71774</text>
<rect x="1652" y="558" width="41" height="11" fill="#0000ff"/>
<text x="1656" y="567" font-family='"DejaVu Sans Condensed", "DejaVu Sans", sans-serif' font-size="9.1" fill="#fff" text-anchor="start" textLength="32.8" lengthAdjust="spacingAndGlyphs">0.71603</text>
<g clip-path="url(#cd)">
<rect x="7" y="608" width="1" height="60" fill="#c0c0c0"/>
<rect x="15" y="609" width="1" height="59" fill="#c0c0c0"/>
<rect x="23" y="612" width="1" height="56" fill="#c0c0c0"/>
<rect x="31" y="613" width="1" height="55" fill="#c0c0c0"/>
<rect x="39" y="614" width="1" height="54" fill="#c0c0c0"/>
<rect x="47" y="619" width="1" height="49" fill="#c0c0c0"/>
<rect x="55" y="623" width="1" height="45" fill="#c0c0c0"/>
<rect x="63" y="630" width="1" height="38" fill="#c0c0c0"/>
<rect x="71" y="631" width="1" height="37" fill="#c0c0c0"/>
<rect x="79" y="632" width="1" height="36" fill="#c0c0c0"/>
<rect x="87" y="633" width="1" height="35" fill="#c0c0c0"/>
<rect x="95" y="629" width="1" height="39" fill="#c0c0c0"/>
<rect x="103" y="623" width="1" height="45" fill="#c0c0c0"/>
<rect x="111" y="618" width="1" height="50" fill="#c0c0c0"/>
<rect x="119" y="612" width="1" height="56" fill="#c0c0c0"/>
<rect x="127" y="609" width="1" height="59" fill="#c0c0c0"/>
<rect x="135" y="608" width="1" height="60" fill="#c0c0c0"/>
<rect x="143" y="605" width="1" height="63" fill="#c0c0c0"/>
<rect x="151" y="603" width="1" height="65" fill="#c0c0c0"/>
<rect x="159" y="604" width="1" height="64" fill="#c0c0c0"/>
<rect x="167" y="600" width="1" height="68" fill="#c0c0c0"/>
<rect x="175" y="596" width="1" height="72" fill="#c0c0c0"/>
<rect x="183" y="595" width="1" height="73" fill="#c0c0c0"/>
<rect x="191" y="591" width="1" height="77" fill="#c0c0c0"/>
<rect x="199" y="597" width="1" height="71" fill="#c0c0c0"/>
<rect x="207" y="602" width="1" height="66" fill="#c0c0c0"/>
<rect x="215" y="607" width="1" height="61" fill="#c0c0c0"/>
<rect x="223" y="616" width="1" height="52" fill="#c0c0c0"/>
<rect x="231" y="624" width="1" height="44" fill="#c0c0c0"/>
<rect x="239" y="629" width="1" height="39" fill="#c0c0c0"/>
<rect x="247" y="629" width="1" height="39" fill="#c0c0c0"/>
<rect x="255" y="629" width="1" height="39" fill="#c0c0c0"/>
<rect x="263" y="636" width="1" height="32" fill="#c0c0c0"/>
<rect x="271" y="642" width="1" height="26" fill="#c0c0c0"/>
<rect x="279" y="646" width="1" height="22" fill="#c0c0c0"/>
<rect x="287" y="646" width="1" height="22" fill="#c0c0c0"/>
<rect x="295" y="644" width="1" height="24" fill="#c0c0c0"/>
<rect x="303" y="645" width="1" height="23" fill="#c0c0c0"/>
<rect x="311" y="645" width="1" height="23" fill="#c0c0c0"/>
<rect x="319" y="645" width="1" height="23" fill="#c0c0c0"/>
<rect x="327" y="646" width="1" height="22" fill="#c0c0c0"/>
<rect x="335" y="643" width="1" height="25" fill="#c0c0c0"/>
<rect x="343" y="644" width="1" height="24" fill="#c0c0c0"/>
<rect x="351" y="642" width="1" height="26" fill="#c0c0c0"/>
<rect x="359" y="644" width="1" height="24" fill="#c0c0c0"/>
<rect x="367" y="644" width="1" height="24" fill="#c0c0c0"/>
<rect x="375" y="643" width="1" height="25" fill="#c0c0c0"/>
<rect x="383" y="641" width="1" height="27" fill="#c0c0c0"/>
<rect x="391" y="641" width="1" height="27" fill="#c0c0c0"/>
<rect x="399" y="642" width="1" height="26" fill="#c0c0c0"/>
<rect x="407" y="642" width="1" height="26" fill="#c0c0c0"/>
<rect x="415" y="642" width="1" height="26" fill="#c0c0c0"/>
<rect x="423" y="645" width="1" height="23" fill="#c0c0c0"/>
<rect x="431" y="647" width="1" height="21" fill="#c0c0c0"/>
<rect x="439" y="646" width="1" height="22" fill="#c0c0c0"/>
<rect x="447" y="646" width="1" height="22" fill="#c0c0c0"/>
<rect x="455" y="641" width="1" height="27" fill="#c0c0c0"/>
<rect x="463" y="638" width="1" height="30" fill="#c0c0c0"/>
<rect x="471" y="638" width="1" height="30" fill="#c0c0c0"/>
<rect x="479" y="636" width="1" height="32" fill="#c0c0c0"/>
<rect x="487" y="634" width="1" height="34" fill="#c0c0c0"/>
<rect x="495" y="636" width="1" height="32" fill="#c0c0c0"/>
<rect x="503" y="642" width="1" height="26" fill="#c0c0c0"/>
<rect x="511" y="644" width="1" height="24" fill="#c0c0c0"/>
<rect x="519" y="647" width="1" height="21" fill="#c0c0c0"/>
<rect x="527" y="652" width="1" height="16" fill="#c0c0c0"/>
<rect x="535" y="659" width="1" height="9" fill="#c0c0c0"/>
<rect x="543" y="660" width="1" height="8" fill="#c0c0c0"/>
<rect x="551" y="658" width="1" height="10" fill="#c0c0c0"/>
<rect x="559" y="658" width="1" height="10" fill="#c0c0c0"/>
<rect x="567" y="659" width="1" height="9" fill="#c0c0c0"/>
<rect x="575" y="662" width="1" height="6" fill="#c0c0c0"/>
<rect x="583" y="667" width="1" height="2" fill="#c0c0c0"/>
<rect x="591" y="667" width="1" height="11" fill="#c0c0c0"/>
<rect x="599" y="667" width="1" height="24" fill="#c0c0c0"/>
<rect x="607" y="667" width="1" height="33" fill="#c0c0c0"/>
<rect x="615" y="667" width="1" height="39" fill="#c0c0c0"/>
<rect x="623" y="667" width="1" height="43" fill="#c0c0c0"/>
<rect x="631" y="667" width="1" height="44" fill="#c0c0c0"/>
<rect x="639" y="667" width="1" height="45" fill="#c0c0c0"/>
<rect x="647" y="667" width="1" height="48" fill="#c0c0c0"/>
<rect x="655" y="667" width="1" height="45" fill="#c0c0c0"/>
<rect x="663" y="667" width="1" height="40" fill="#c0c0c0"/>
<rect x="671" y="667" width="1" height="38" fill="#c0c0c0"/>
<rect x="679" y="667" width="1" height="38" fill="#c0c0c0"/>
<rect x="687" y="667" width="1" height="42" fill="#c0c0c0"/>
<rect x="695" y="667" width="1" height="48" fill="#c0c0c0"/>
<rect x="703" y="667" width="1" height="51" fill="#c0c0c0"/>
<rect x="711" y="667" width="1" height="52" fill="#c0c0c0"/>
<rect x="719" y="667" width="1" height="55" fill="#c0c0c0"/>
<rect x="727" y="667" width="1" height="57" fill="#c0c0c0"/>
<rect x="735" y="667" width="1" height="62" fill="#c0c0c0"/>
<rect x="743" y="667" width="1" height="59" fill="#c0c0c0"/>
<rect x="751" y="667" width="1" height="58" fill="#c0c0c0"/>
<rect x="759" y="667" width="1" height="55" fill="#c0c0c0"/>
<rect x="767" y="667" width="1" height="53" fill="#c0c0c0"/>
<rect x="775" y="667" width="1" height="50" fill="#c0c0c0"/>
<rect x="783" y="667" width="1" height="46" fill="#c0c0c0"/>
<rect x="791" y="667" width="1" height="40" fill="#c0c0c0"/>
<rect x="799" y="667" width="1" height="34" fill="#c0c0c0"/>
<rect x="807" y="667" width="1" height="30" fill="#c0c0c0"/>
<rect x="815" y="667" width="1" height="30" fill="#c0c0c0"/>
<rect x="823" y="667" width="1" height="26" fill="#c0c0c0"/>
<rect x="831" y="667" width="1" height="25" fill="#c0c0c0"/>
<rect x="839" y="667" width="1" height="30" fill="#c0c0c0"/>
<rect x="847" y="667" width="1" height="32" fill="#c0c0c0"/>
<rect x="855" y="667" width="1" height="34" fill="#c0c0c0"/>
<rect x="863" y="667" width="1" height="37" fill="#c0c0c0"/>
<rect x="871" y="667" width="1" height="40" fill="#c0c0c0"/>
<rect x="879" y="667" width="1" height="43" fill="#c0c0c0"/>
<rect x="887" y="667" width="1" height="44" fill="#c0c0c0"/>
<rect x="895" y="667" width="1" height="49" fill="#c0c0c0"/>
<rect x="903" y="667" width="1" height="52" fill="#c0c0c0"/>
<rect x="911" y="667" width="1" height="59" fill="#c0c0c0"/>
<rect x="919" y="667" width="1" height="65" fill="#c0c0c0"/>
<rect x="927" y="667" width="1" height="69" fill="#c0c0c0"/>
<rect x="935" y="667" width="1" height="70" fill="#c0c0c0"/>
<rect x="943" y="667" width="1" height="72" fill="#c0c0c0"/>
<rect x="951" y="667" width="1" height="74" fill="#c0c0c0"/>
<rect x="959" y="667" width="1" height="76" fill="#c0c0c0"/>
<rect x="967" y="667" width="1" height="72" fill="#c0c0c0"/>
<rect x="975" y="667" width="1" height="70" fill="#c0c0c0"/>
<rect x="983" y="667" width="1" height="64" fill="#c0c0c0"/>
<rect x="991" y="667" width="1" height="56" fill="#c0c0c0"/>
<rect x="999" y="667" width="1" height="49" fill="#c0c0c0"/>
<rect x="1007" y="667" width="1" height="41" fill="#c0c0c0"/>
<rect x="1015" y="667" width="1" height="33" fill="#c0c0c0"/>
<rect x="1023" y="667" width="1" height="23" fill="#c0c0c0"/>
<rect x="1031" y="667" width="1" height="16" fill="#c0c0c0"/>
<rect x="1039" y="667" width="1" height="13" fill="#c0c0c0"/>
<rect x="1047" y="667" width="1" height="10" fill="#c0c0c0"/>
<rect x="1055" y="667" width="1" height="6" fill="#c0c0c0"/>
<rect x="1063" y="667" width="1" height="6" fill="#c0c0c0"/>
<rect x="1071" y="667" width="1" height="6" fill="#c0c0c0"/>
<rect x="1079" y="667" width="1" height="10" fill="#c0c0c0"/>
<rect x="1087" y="667" width="1" height="16" fill="#c0c0c0"/>
<rect x="1095" y="667" width="1" height="21" fill="#c0c0c0"/>
<rect x="1103" y="667" width="1" height="29" fill="#c0c0c0"/>
<rect x="1111" y="667" width="1" height="31" fill="#c0c0c0"/>
<rect x="1119" y="667" width="1" height="33" fill="#c0c0c0"/>
<rect x="1127" y="667" width="1" height="37" fill="#c0c0c0"/>
<rect x="1135" y="667" width="1" height="43" fill="#c0c0c0"/>
<rect x="1143" y="667" width="1" height="45" fill="#c0c0c0"/>
<rect x="1151" y="667" width="1" height="47" fill="#c0c0c0"/>
<rect x="1159" y="667" width="1" height="44" fill="#c0c0c0"/>
<rect x="1167" y="667" width="1" height="41" fill="#c0c0c0"/>
<rect x="1175" y="667" width="1" height="44" fill="#c0c0c0"/>
<rect x="1183" y="667" width="1" height="42" fill="#c0c0c0"/>
<rect x="1191" y="667" width="1" height="39" fill="#c0c0c0"/>
<rect x="1199" y="667" width="1" height="39" fill="#c0c0c0"/>
<rect x="1207" y="667" width="1" height="35" fill="#c0c0c0"/>
<rect x="1215" y="667" width="1" height="40" fill="#c0c0c0"/>
<rect x="1223" y="667" width="1" height="40" fill="#c0c0c0"/>
<rect x="1231" y="667" width="1" height="45" fill="#c0c0c0"/>
<rect x="1239" y="667" width="1" height="47" fill="#c0c0c0"/>
<rect x="1247" y="667" width="1" height="46" fill="#c0c0c0"/>
<rect x="1255" y="667" width="1" height="45" fill="#c0c0c0"/>
<rect x="1263" y="667" width="1" height="41" fill="#c0c0c0"/>
<rect x="1271" y="667" width="1" height="41" fill="#c0c0c0"/>
<rect x="1279" y="667" width="1" height="43" fill="#c0c0c0"/>
<rect x="1287" y="667" width="1" height="44" fill="#c0c0c0"/>
<rect x="1295" y="667" width="1" height="45" fill="#c0c0c0"/>
<rect x="1303" y="667" width="1" height="45" fill="#c0c0c0"/>
<rect x="1311" y="667" width="1" height="45" fill="#c0c0c0"/>
<rect x="1319" y="667" width="1" height="45" fill="#c0c0c0"/>
<rect x="1327" y="667" width="1" height="45" fill="#c0c0c0"/>
<rect x="1335" y="667" width="1" height="45" fill="#c0c0c0"/>
<rect x="1343" y="667" width="1" height="45" fill="#c0c0c0"/>
<rect x="1351" y="667" width="1" height="45" fill="#c0c0c0"/>
<rect x="1359" y="667" width="1" height="45" fill="#c0c0c0"/>
<rect x="1367" y="667" width="1" height="45" fill="#c0c0c0"/>
<rect x="1375" y="667" width="1" height="46" fill="#c0c0c0"/>
<rect x="1383" y="667" width="1" height="47" fill="#c0c0c0"/>
<polyline points="2.9,615.7 7.1,613.4 15.3,612.2 23.6,611.4 30.6,610.4 47.1,610.4 54.2,611.4 58.9,613.4 64.8,614.5 70.7,617.5 76.6,618.3 82.5,620.4 89.6,622.5 94.3,624 100.2,625.4 117.9,625.4 123.7,624.6 129.6,622.5 135.5,621.6 142.6,618.7 149.7,616.3 154.4,613.9 160.3,611.6 166.2,608.9 172.1,606.5 178,604.9 183.9,603 189.7,600.4 195.6,599.6 202.4,599.2 208.6,598.4 220.9,599.2 227.1,601.1 233.3,603.3 239.5,605.4 245.7,607.9 251.9,611 258.1,614.7 264.2,618.4 270.4,622.1 276.6,625.8 282.8,628.9 289,632 295.2,634.5 301.4,637 307.6,638.5 313.7,639.4 319.9,641.3 326.1,643.4 338.5,644.4 350.9,644.2 363.2,643.4 375.6,643.2 388,642.5 400,642.2 408.6,642.5 414.7,641.4 427.1,642.5 439.5,642.5 451.9,643.5 464.2,642.5 476.6,641.6 489,640.4 495.2,639.5 507.6,638.5 519.9,639.5 532.3,641.2 538.5,643.5 544.7,645.3 550.9,647.4 557.1,649.4 563.2,651.1 569.4,653.1 575.6,655.2 581.8,657.4 588,659.3 594.2,662 597.4,664.2 603.6,668.6 609.8,672.3 616,676 622.2,680.3 628.4,685.3 634.5,689.6 640.7,693.9 646.9,698.9 653.1,703.2 659.3,705.4 664.2,707.2 670.4,709.2 682.8,709.4 695.2,710.4 701.4,711.3 713.7,712.2 726.1,713.4 732.3,715.6 738.5,717.4 744.7,720.3 750.9,720.8 763.2,722.4 775.6,723.3 781.8,722 788,720.5 796.2,719.4 802.4,716.7 808.6,714.2 814.7,711.7 820.9,709.5 827.1,706.8 833.3,703.9 839.5,702.3 845.7,700.6 851.9,699.4 864.2,698.6 870.4,699.6 882.8,700.2 889,702.7 901.4,705.5 907.6,708.3 913.7,711 919.9,713.8 926.1,717.5 932.3,721.3 938.5,724.1 944.7,726.6 950.9,729.5 957.1,732 963.2,734 969.4,736.1 975.6,737.3 988,736.7 992.5,735.4 999.9,734.4 1006.1,731.7 1012.3,728.2 1018.5,724.2 1024.6,719.9 1030.8,715 1037,710 1043.2,705.1 1049.4,700.5 1055.6,695.2 1060.5,691.1 1066.7,686.9 1072.9,683.7 1079.1,681.2 1085.3,679.7 1095.2,679.5 1103.8,680.3 1113.7,683.2 1119.9,685.6 1126.1,688.6 1132.3,690.8 1138.5,693.9 1144.7,697.3 1150.9,700.7 1157.1,703.5 1163.2,705.7 1169.4,706.9 1175.6,708.8 1181.8,709.6 1203,709.6 1222.4,708.3 1235.4,708.6 1248.3,709.4 1252.2,710.3 1275.6,710.4 1300,711.5 1340,712 1383.5,712.5" fill="none" stroke="#ff0000" stroke-width="1" stroke-dasharray="3 3"/>
<g>
<line x1="1241.5" y1="714.4" x2="1392" y2="709.7" stroke="#ff0000" stroke-width="3"/>
<polygon points="1388.5,704.8 1400.5,709.5 1388.5,715.2" fill="#ff0000"/>
</g>
</g>
<text x="-5.8" y="593.5" font-family='"DejaVu Sans Condensed", "DejaVu Sans", sans-serif' font-size="9.1" fill="#000" text-anchor="start" textLength="66.2" lengthAdjust="spacingAndGlyphs">MACD(12,26,9)</text>
<text x="63.6" y="593.5" font-family='"DejaVu Sans Condensed", "DejaVu Sans", sans-serif' font-size="9.1" fill="#000" text-anchor="start" textLength="41.4" lengthAdjust="spacingAndGlyphs">-0.002039</text>
<text x="107.2" y="593.5" font-family='"DejaVu Sans Condensed", "DejaVu Sans", sans-serif' font-size="9.1" fill="#000" text-anchor="start" textLength="41.8" lengthAdjust="spacingAndGlyphs">-0.001955</text>
<rect x="1651" y="583" width="2" height="1" fill="#000"/>
<text x="1654" y="592" font-family='"DejaVu Sans Condensed", "DejaVu Sans", sans-serif' font-size="9.1" fill="#000" text-anchor="start" textLength="38" lengthAdjust="spacingAndGlyphs">0.003698</text>
<rect x="1651" y="667" width="2" height="1" fill="#000"/>
<text x="1654" y="671" font-family='"DejaVu Sans Condensed", "DejaVu Sans", sans-serif' font-size="9.1" fill="#000" text-anchor="start" textLength="18" lengthAdjust="spacingAndGlyphs">0.00</text>
<text x="1654" y="748" font-family='"DejaVu Sans Condensed", "DejaVu Sans", sans-serif' font-size="9.1" fill="#000" text-anchor="start" textLength="40.5" lengthAdjust="spacingAndGlyphs">-0.003672</text>
<g clip-path="url(#cr)">
<line x1="-2" y1="789.5" x2="1650" y2="789.5" stroke="#c0c0c0" stroke-width="1" stroke-dasharray="3 3"/>
<line x1="-2" y1="840.5" x2="1650" y2="840.5" stroke="#c0c0c0" stroke-width="1" stroke-dasharray="3 3"/>
<line x1="-2" y1="901.5" x2="1650" y2="901.5" stroke="#c0c0c0" stroke-width="1" stroke-dasharray="3 3"/>
<polyline points="-0.5,809 7.5,805.5 15.5,809.4 23.5,813.3 31.5,810.2 39.5,808.3 47.5,827.2 55.5,826.2 63.5,841.1 71.5,823.2 79.5,825.4 87.5,825.4 95.5,810.2 103.5,804.8 111.5,803.2 119.5,799 127.5,803.4 135.5,804.5 143.5,799.3 151.5,802.7 159.5,808.3 167.5,797.5 175.5,795.3 183.5,800.3 191.5,795.3 199.5,824.4 207.5,823.3 215.5,825.5 223.5,840.4 231.5,841.3 239.5,834.4 247.5,825.8 255.5,822.7 263.5,843.1 271.5,842.5 279.5,840.4 287.5,832 295.5,826.4 303.5,834.2 311.5,830.1 319.5,831 327.5,832.2 335.5,822.3 343.5,833.5 351.5,825.5 359.5,834.4 367.5,832 375.5,827.6 383.5,824.3 391.5,828.3 399.5,831.8 407.5,828.2 415.5,826 423.5,838.4 431.5,835.6 439.5,828.5 447.5,827.2 455.5,816.3 463.5,818.3 471.5,826.2 479.5,819.4 487.5,820.4 495.5,827.8 503.5,844.3 511.5,835.3 519.5,838.6 527.5,845.5 535.5,853.5 543.5,840.2 551.5,831.6 559.5,838.4 567.5,838.4 575.5,846.8 583.5,859.2 591.5,861.3 599.5,873.4 607.5,870.1 615.5,868.3 623.5,868.3 631.5,861.5 639.5,864.3 647.5,868.3 655.5,854 663.5,845.4 671.5,852.8 679.5,857.1 687.5,865.8 695.5,870.1 703.5,868 711.5,866.4 719.5,870.1 727.5,872.2 735.5,878.2 743.5,856.5 751.5,860.2 759.5,860.2 767.5,858.4 775.5,855.3 783.5,852.8 791.5,844.7 799.5,841.6 807.5,847.8 815.5,854.4 823.5,844.5 831.5,849.5 839.5,863.3 847.5,860.2 855.5,862.3 863.5,865.5 871.5,867.3 879.5,869.3 887.5,868.3 895.5,878.2 903.5,876.3 911.5,884.1 919.5,885.3 927.5,886.6 935.5,880.6 943.5,885.3 951.5,885.3 959.5,887.4 967.5,867.3 975.5,870.7 983.5,853.2 991.5,848.2 999.5,846 1007.5,842.2 1015.5,834.7 1023.5,827.6 1031.5,832.5 1039.5,838.2 1047.5,841.6 1055.5,833.3 1063.5,843.2 1071.5,842.4 1079.5,856 1087.5,863.2 1095.5,863.2 1103.5,873.4 1111.5,860.1 1119.5,860.1 1127.5,867.5 1135.5,872.1 1143.5,867.2 1151.5,867.2 1159.5,852.3 1167.5,853.9 1175.5,865.4 1183.5,855.5 1191.5,854.3 1199.5,856 1207.5,850.3 1215.5,868.5 1223.5,858.4 1231.5,865.5 1239.5,866.4 1247.5,858.6 1255.5,854.9 1263.5,851.2 1271.5,854.4 1279.5,864 1287.5,865 1295.5,865 1303.5,864.5 1311.5,866 1319.5,866.5 1327.5,863.2 1335.5,863.2 1343.5,871.6 1351.5,861.1 1359.5,863.2 1367.5,873.5 1375.5,871.5 1383.5,869.2" fill="none" stroke="#1e90ff" stroke-width="1"/>
<g>
<line x1="1268.3" y1="862.4" x2="1384" y2="871.6" stroke="#ff0000" stroke-width="3"/>
<polygon points="1381,866.6 1392.3,872.3 1379.6,876.6" fill="#ff0000"/>
</g>
</g>
<text x="-5.7" y="766.5" font-family='"DejaVu Sans Condensed", "DejaVu Sans", sans-serif' font-size="9.1" fill="#000" text-anchor="start" textLength="33" lengthAdjust="spacingAndGlyphs">RSI(14)</text>
<text x="29.8" y="766.5" font-family='"DejaVu Sans Condensed", "DejaVu Sans", sans-serif' font-size="9.1" fill="#000" text-anchor="start" textLength="33.6" lengthAdjust="spacingAndGlyphs">33.6906</text>
<text x="1654" y="763.5" font-family='"DejaVu Sans Condensed", "DejaVu Sans", sans-serif' font-size="9.1" fill="#000" text-anchor="start" textLength="15" lengthAdjust="spacingAndGlyphs">100</text>
<rect x="1651" y="789" width="2" height="1" fill="#000"/>
<text x="1654" y="793" font-family='"DejaVu Sans Condensed", "DejaVu Sans", sans-serif' font-size="9.1" fill="#000" text-anchor="start" textLength="10" lengthAdjust="spacingAndGlyphs">80</text>
<rect x="1651" y="840" width="2" height="1" fill="#000"/>
<text x="1654" y="844" font-family='"DejaVu Sans Condensed", "DejaVu Sans", sans-serif' font-size="9.1" fill="#000" text-anchor="start" textLength="10" lengthAdjust="spacingAndGlyphs">50</text>
<rect x="1651" y="901" width="2" height="1" fill="#000"/>
<text x="1654" y="905" font-family='"DejaVu Sans Condensed", "DejaVu Sans", sans-serif' font-size="9.1" fill="#000" text-anchor="start" textLength="10" lengthAdjust="spacingAndGlyphs">15</text>
<text x="1654" y="924" font-family='"DejaVu Sans Condensed", "DejaVu Sans", sans-serif' font-size="9.1" fill="#000" text-anchor="start" textLength="5" lengthAdjust="spacingAndGlyphs">0</text>
<text x="-10.6" y="940" font-family='"DejaVu Sans Condensed", "DejaVu Sans", sans-serif' font-size="9.1" fill="#000" text-anchor="start" textLength="51" lengthAdjust="spacingAndGlyphs">15 Oct 2021</text>
<rect x="55" y="928" width="1" height="3" fill="#000"/>
<text x="54.2" y="940" font-family='"DejaVu Sans Condensed", "DejaVu Sans", sans-serif' font-size="9.1" fill="#000" text-anchor="start" textLength="54" lengthAdjust="spacingAndGlyphs">18 Oct 04:00</text>
<rect x="119" y="928" width="1" height="3" fill="#000"/>
<text x="118.2" y="940" font-family='"DejaVu Sans Condensed", "DejaVu Sans", sans-serif' font-size="9.1" fill="#000" text-anchor="start" textLength="54" lengthAdjust="spacingAndGlyphs">19 Oct 12:00</text>
<rect x="183" y="928" width="1" height="3" fill="#000"/>
<text x="182.2" y="940" font-family='"DejaVu Sans Condensed", "DejaVu Sans", sans-serif' font-size="9.1" fill="#000" text-anchor="start" textLength="54" lengthAdjust="spacingAndGlyphs">20 Oct 20:00</text>
<rect x="247" y="928" width="1" height="3" fill="#000"/>
<text x="246.2" y="940" font-family='"DejaVu Sans Condensed", "DejaVu Sans", sans-serif' font-size="9.1" fill="#000" text-anchor="start" textLength="54" lengthAdjust="spacingAndGlyphs">22 Oct 04:00</text>
<rect x="311" y="928" width="1" height="3" fill="#000"/>
<text x="310.2" y="940" font-family='"DejaVu Sans Condensed", "DejaVu Sans", sans-serif' font-size="9.1" fill="#000" text-anchor="start" textLength="54" lengthAdjust="spacingAndGlyphs">25 Oct 12:00</text>
<rect x="375" y="928" width="1" height="3" fill="#000"/>
<text x="374.2" y="940" font-family='"DejaVu Sans Condensed", "DejaVu Sans", sans-serif' font-size="9.1" fill="#000" text-anchor="start" textLength="54" lengthAdjust="spacingAndGlyphs">26 Oct 20:00</text>
<rect x="439" y="928" width="1" height="3" fill="#000"/>
<text x="438.2" y="940" font-family='"DejaVu Sans Condensed", "DejaVu Sans", sans-serif' font-size="9.1" fill="#000" text-anchor="start" textLength="54" lengthAdjust="spacingAndGlyphs">28 Oct 04:00</text>
<rect x="503" y="928" width="1" height="3" fill="#000"/>
<text x="502.2" y="940" font-family='"DejaVu Sans Condensed", "DejaVu Sans", sans-serif' font-size="9.1" fill="#000" text-anchor="start" textLength="54" lengthAdjust="spacingAndGlyphs">29 Oct 12:00</text>
<rect x="567" y="928" width="1" height="3" fill="#000"/>
<text x="566.2" y="940" font-family='"DejaVu Sans Condensed", "DejaVu Sans", sans-serif' font-size="9.1" fill="#000" text-anchor="start" textLength="52" lengthAdjust="spacingAndGlyphs">1 Nov 20:00</text>
<rect x="631" y="928" width="1" height="3" fill="#000"/>
<text x="630.2" y="940" font-family='"DejaVu Sans Condensed", "DejaVu Sans", sans-serif' font-size="9.1" fill="#000" text-anchor="start" textLength="52" lengthAdjust="spacingAndGlyphs">3 Nov 04:00</text>
<rect x="695" y="928" width="1" height="3" fill="#000"/>
<text x="694.2" y="940" font-family='"DejaVu Sans Condensed", "DejaVu Sans", sans-serif' font-size="9.1" fill="#000" text-anchor="start" textLength="52" lengthAdjust="spacingAndGlyphs">4 Nov 12:00</text>
<rect x="759" y="928" width="1" height="3" fill="#000"/>
<text x="758.2" y="940" font-family='"DejaVu Sans Condensed", "DejaVu Sans", sans-serif' font-size="9.1" fill="#000" text-anchor="start" textLength="52" lengthAdjust="spacingAndGlyphs">7 Nov 23:00</text>
<rect x="823" y="928" width="1" height="3" fill="#000"/>
<text x="822.2" y="940" font-family='"DejaVu Sans Condensed", "DejaVu Sans", sans-serif' font-size="9.1" fill="#000" text-anchor="start" textLength="52" lengthAdjust="spacingAndGlyphs">9 Nov 04:00</text>
<rect x="887" y="928" width="1" height="3" fill="#000"/>
<text x="886.2" y="940" font-family='"DejaVu Sans Condensed", "DejaVu Sans", sans-serif' font-size="9.1" fill="#000" text-anchor="start" textLength="57" lengthAdjust="spacingAndGlyphs">10 Nov 12:00</text>
<rect x="951" y="928" width="1" height="3" fill="#000"/>
<text x="950.2" y="940" font-family='"DejaVu Sans Condensed", "DejaVu Sans", sans-serif' font-size="9.1" fill="#000" text-anchor="start" textLength="57" lengthAdjust="spacingAndGlyphs">11 Nov 20:00</text>
<rect x="1015" y="928" width="1" height="3" fill="#000"/>
<text x="1014.2" y="940" font-family='"DejaVu Sans Condensed", "DejaVu Sans", sans-serif' font-size="9.1" fill="#000" text-anchor="start" textLength="57" lengthAdjust="spacingAndGlyphs">15 Nov 04:00</text>
<rect x="1079" y="928" width="1" height="3" fill="#000"/>
<text x="1078.2" y="940" font-family='"DejaVu Sans Condensed", "DejaVu Sans", sans-serif' font-size="9.1" fill="#000" text-anchor="start" textLength="57" lengthAdjust="spacingAndGlyphs">16 Nov 12:00</text>
<rect x="1143" y="928" width="1" height="3" fill="#000"/>
<text x="1142.2" y="940" font-family='"DejaVu Sans Condensed", "DejaVu Sans", sans-serif' font-size="9.1" fill="#000" text-anchor="start" textLength="57" lengthAdjust="spacingAndGlyphs">17 Nov 20:00</text>
<rect x="1207" y="928" width="1" height="3" fill="#000"/>
<text x="1206.2" y="940" font-family='"DejaVu Sans Condensed", "DejaVu Sans", sans-serif' font-size="9.1" fill="#000" text-anchor="start" textLength="57" lengthAdjust="spacingAndGlyphs">19 Nov 04:00</text>
<rect x="1271" y="928" width="1" height="3" fill="#000"/>
<text x="1270.2" y="940" font-family='"DejaVu Sans Condensed", "DejaVu Sans", sans-serif' font-size="9.1" fill="#000" text-anchor="start" textLength="57" lengthAdjust="spacingAndGlyphs">22 Nov 12:00</text>
<rect x="1335" y="928" width="1" height="3" fill="#000"/>
<text x="1334.2" y="940" font-family='"DejaVu Sans Condensed", "DejaVu Sans", sans-serif' font-size="9.1" fill="#000" text-anchor="start" textLength="57" lengthAdjust="spacingAndGlyphs">23 Nov 20:00</text>
<rect x="0" y="36" width="2" height="1" fill="#000"/>
<text x="6.6" y="37.7" font-family='"DejaVu Sans Condensed", "DejaVu Sans", sans-serif' font-size="9.1" fill="#000" text-anchor="start" textLength="58.2" lengthAdjust="spacingAndGlyphs">AUDUSD-,H4</text>
<text x="71.4" y="37.7" font-family='"DejaVu Sans Condensed", "DejaVu Sans", sans-serif' font-size="9.1" fill="#000" text-anchor="start" textLength="140" lengthAdjust="spacingAndGlyphs">0.71913 0.71987 0.71905 0.71950</text>
<defs><linearGradient id="gb" x1="0" y1="0" x2="0" y2="1"><stop offset="0" stop-color="#5c5cff"/><stop offset="1" stop-color="#3333e6"/></linearGradient><linearGradient id="gp" x1="0" y1="0" x2="0" y2="1"><stop offset="0" stop-color="#3434e4"/><stop offset="1" stop-color="#0000a6"/></linearGradient><linearGradient id="gl" x1="0" y1="0" x2="0" y2="1"><stop offset="0" stop-color="#f4f4f4"/><stop offset="0.33" stop-color="#ececec"/><stop offset="0.34" stop-color="#dcdcdc"/><stop offset="1" stop-color="#d4d4d4"/></linearGradient></defs>
<rect x="0" y="46" width="46" height="24" fill="#0000a0"/>
<rect x="0" y="70" width="103" height="33" fill="#0000a0"/>
<rect x="0" y="47" width="45" height="23" fill="url(#gb)"/>
<rect x="0" y="71" width="102" height="31" fill="url(#gp)"/>
<rect x="42" y="69" width="3" height="2" fill="#3838e8"/>
<rect x="0" y="69" width="42" height="1" fill="#000078"/>
<rect x="0" y="70" width="42" height="1" fill="#6e6eff"/>
<rect x="161" y="46" width="52" height="24" fill="#0000a0"/>
<rect x="105" y="70" width="108" height="33" fill="#0000a0"/>
<rect x="162" y="47" width="50" height="23" fill="url(#gb)"/>
<rect x="106" y="71" width="106" height="31" fill="url(#gp)"/>
<rect x="162" y="69" width="50" height="2" fill="#3838e8"/>
<rect x="165" y="69" width="45" height="1" fill="#000078"/>
<rect x="165" y="70" width="45" height="1" fill="#6e6eff"/>
<rect x="48" y="46" width="111" height="22" fill="#a0a0a0"/>
<rect x="49" y="47" width="109" height="20" fill="#fff"/>
<rect x="50" y="48" width="19" height="18" fill="url(#gl)"/>
<rect x="69" y="47" width="1" height="20" fill="#b4b4b4"/>
<rect x="138" y="48" width="19" height="18" fill="url(#gl)"/>
<rect x="137" y="47" width="1" height="20" fill="#b4b4b4"/>
<polygon points="56,55 61,55 58.5,58" fill="#4a58b0" shape-rendering="auto"/>
<polygon points="145,58 150,58 147.5,55" fill="#4a58b0" shape-rendering="auto"/>
<g shape-rendering="auto">
<text x="110.3" y="60.8" font-family='"DejaVu Sans Condensed", "DejaVu Sans", sans-serif' font-size="12" fill="#000" text-anchor="start" textLength="23.2" lengthAdjust="spacingAndGlyphs">1.00</text>
<text x="6.7" y="61.8" font-family='"DejaVu Sans Condensed", "DejaVu Sans", sans-serif' font-size="12" fill="#fff" text-anchor="start" textLength="25.3" lengthAdjust="spacingAndGlyphs">SELL</text>
<text x="174.8" y="61.8" font-family='"DejaVu Sans Condensed", "DejaVu Sans", sans-serif' font-size="12" fill="#fff" text-anchor="start" textLength="22.9" lengthAdjust="spacingAndGlyphs">BUY</text>
<text x="13.9" y="98" font-family='"Liberation Sans", sans-serif' font-size="12" fill="#fff" text-anchor="start" font-weight="bold" textLength="24" lengthAdjust="spacingAndGlyphs">0.71</text>
<text x="41.6" y="98" font-family='"DejaVu Sans Condensed", "DejaVu Sans", sans-serif' font-size="32.5" fill="#fff" text-anchor="start" textLength="35" lengthAdjust="spacingAndGlyphs">95</text>
<text x="81.2" y="81.9" font-family='"Liberation Sans", sans-serif' font-size="11.5" fill="#fff" text-anchor="start" font-weight="bold" textLength="6.8" lengthAdjust="spacingAndGlyphs">0</text>
<text x="123.9" y="97.8" font-family='"Liberation Sans", sans-serif' font-size="12" fill="#fff" text-anchor="start" font-weight="bold" textLength="23.9" lengthAdjust="spacingAndGlyphs">0.71</text>
<text x="152.6" y="97.8" font-family='"DejaVu Sans Condensed", "DejaVu Sans", sans-serif' font-size="32.5" fill="#fff" text-anchor="start" textLength="34.8" lengthAdjust="spacingAndGlyphs">97</text>
<text x="192.6" y="81.6" font-family='"Liberation Sans", sans-serif' font-size="11.5" fill="#fff" text-anchor="start" font-weight="bold" textLength="6.2" lengthAdjust="spacingAndGlyphs">2</text>
</g>
<g>
<line x1="0" y1="13" x2="3" y2="19" stroke="#c89a20" stroke-width="2" shape-rendering="auto"/>
<rect x="11" y="1" width="1" height="19" fill="#a8a8a8"/>
<g shape-rendering="auto">
<path d="M21.5,3.5 h8 l3,3 v10 h-11 z" fill="#fff" stroke="#555" stroke-width="1"/>
<path d="M23.5,7.5 h6 M23.5,9.5 h7 M23.5,11.5 h5" stroke="#777" stroke-width="1"/>
<path d="M29.5,10 h3 v3.5 h3.5 v3 h-3.5 v3.5 h-3 v-3.5 h-3.5 v-3 h3.5 z" fill="#2cc02c" stroke="#138013" stroke-width="0.8"/>
</g>
<text x="39.8" y="13.6" font-family='"Liberation Sans", "Noto Sans CJK SC", sans-serif' font-size="12" fill="#000" text-anchor="start" shape-rendering="auto">新订单</text>
<defs><linearGradient id="gbk" x1="0" y1="0" x2="1" y2="1"><stop offset="0" stop-color="#fff27a"/><stop offset="0.5" stop-color="#eec21c"/><stop offset="1" stop-color="#d89a10"/></linearGradient><linearGradient id="gsig" x1="0" y1="0" x2="1" y2="0"><stop offset="0" stop-color="#4a6ad8"/><stop offset="0.5" stop-color="#a8c0e0"/><stop offset="1" stop-color="#3a9a4a"/></linearGradient></defs>
<g shape-rendering="auto">
<path d="M93.6,3.4 L103.6,11.9 L95.8,17.6 L88.2,11.7 L91.8,7.6 Z" fill="url(#gbk)" stroke="#9a5a0a" stroke-width="0.9" stroke-linejoin="round"/>
<path d="M89.5,12.2 L95.8,16.6 L102.2,12.3" fill="none" stroke="#f6e6b0" stroke-width="1"/>
</g>
<g shape-rendering="auto">
<path d="M118,2.2 h8.5 l2.5,2 v6.5 h-11 z" fill="#1e9cf0" stroke="#1a70c8" stroke-width="0.7"/>
<path d="M121.2,3 v7 M121.5,7.2 h6" stroke="#d8f0ff" stroke-width="0.9"/>
<path d="M117.3,17.5 q-1.6,-3.6 2,-4 q1,-3.4 4.8,-2 q2.3,-1.8 4,0.5 q3.4,0 3,3.2 q0.4,2.3 -1.4,2.3 z" fill="#e8ecf4" stroke="#3c5a98" stroke-width="0.9"/>
</g>
<g shape-rendering="auto" fill="none">
<circle cx="151.8" cy="9.8" r="7.6" stroke="url(#gsig)" stroke-width="1.3" opacity="0.75"/>
<circle cx="151.8" cy="9.8" r="4.6" stroke="url(#gsig)" stroke-width="1.2" opacity="0.75"/>
<circle cx="151.8" cy="9.8" r="1.9" fill="#2a52c8" stroke="none"/>
<path d="M152.3,10 v7.8" stroke="#22a022" stroke-width="1.3"/>
</g>
<g shape-rendering="auto">
<path d="M171.4,9.2 L186.6,9.2 L178.6,17.8 Z" fill="#f6dc4a" stroke="#c89a18" stroke-width="0.8" stroke-linejoin="round"/>
<ellipse cx="179" cy="7" rx="7.8" ry="2.3" fill="#62b4ea" stroke="#2a7ab0" stroke-width="0.8"/>
<path d="M174.6,6.5 q0.5,-4.6 3.6,-4.6 q3.4,0 3.6,4.6 z" fill="#7cc4f0" stroke="#2a7ab0" stroke-width="0.8"/>
<circle cx="183.4" cy="13.7" r="4.2" fill="#dc2410" stroke="#a81808" stroke-width="0.6"/>
<rect x="182" y="12.3" width="2.9" height="2.6" fill="#fff"/>
</g>
<text x="192.3" y="13.6" font-family='"Liberation Sans", "Noto Sans CJK SC", sans-serif' font-size="12" fill="#000" text-anchor="start" shape-rendering="auto">自动交易</text>
<rect x="247" y="1" width="1" height="19" fill="#a8a8a8"/>
<rect x="251" y="1" width="3" height="1" fill="#b0b0b0"/>
<rect x="251" y="3" width="3" height="1" fill="#b0b0b0"/>
<rect x="251" y="5" width="3" height="1" fill="#b0b0b0"/>
<rect x="251" y="7" width="3" height="1" fill="#b0b0b0"/>
<rect x="251" y="9" width="3" height="1" fill="#b0b0b0"/>
<rect x="251" y="11" width="3" height="1" fill="#b0b0b0"/>
<rect x="251" y="13" width="3" height="1" fill="#b0b0b0"/>
<rect x="251" y="15" width="3" height="1" fill="#b0b0b0"/>
<rect x="251" y="17" width="3" height="1" fill="#b0b0b0"/>
<rect x="251" y="19" width="3" height="1" fill="#b0b0b0"/>
<rect x="265" y="4" width="1" height="14" fill="#505050"/>
<rect x="263" y="15" width="14" height="1" fill="#505050"/>
<polygon points="263.5,6 267.5,6 265.5,3.5" fill="#505050" shape-rendering="auto"/>
<polygon points="275,13.5 275,17.5 277.5,15.5" fill="#505050" shape-rendering="auto"/>
<path d="M270.5,13 v-4 h2 v-4 h2" fill="none" stroke="#2a9a2a" stroke-width="1.3"/>
<rect x="285" y="1" width="1" height="19" fill="#a8a8a8"/>
<rect x="286" y="0" width="24" height="21" fill="#f8f8f8"/>
<rect x="293" y="4" width="1" height="14" fill="#505050"/>
<rect x="291" y="15" width="14" height="1" fill="#505050"/>
<polygon points="291.5,6 295.5,6 293.5,3.5" fill="#505050" shape-rendering="auto"/>
<polygon points="303,13.5 303,17.5 305.5,15.5" fill="#505050" shape-rendering="auto"/>
<rect x="299" y="2" width="1" height="12" fill="#1a6a1a"/>
<rect x="297" y="4" width="5" height="8" fill="#2ec82e"/>
<rect x="297.5" y="4.5" width="4" height="7" fill="none" stroke="#1a7a1a" stroke-width="1"/>
<rect x="321" y="4" width="1" height="14" fill="#505050"/>
<rect x="319" y="15" width="14" height="1" fill="#505050"/>
<polygon points="319.5,6 323.5,6 321.5,3.5" fill="#505050" shape-rendering="auto"/>
<polygon points="331,13.5 331,17.5 333.5,15.5" fill="#505050" shape-rendering="auto"/>
<path d="M319.5,12.5 q4,-6 8,-5 q3,1 5,3.5" fill="none" stroke="#2a9a2a" stroke-width="1.3" shape-rendering="auto"/>
<rect x="342" y="1" width="1" height="19" fill="#a8a8a8"/>
<g shape-rendering="auto">
<line x1="360" y1="12" x2="365.5" y2="17.5" stroke="#c8a020" stroke-width="3"/>
<circle cx="356.5" cy="8" r="5" fill="#d8ecff" stroke="#3a78c8" stroke-width="1.4"/>
<rect x="353.5" y="7" width="6" height="2" fill="#3a78c8"/>
<rect x="355.5" y="5" width="2" height="6" fill="#3a78c8"/>
</g>
<g shape-rendering="auto">
<line x1="388" y1="12" x2="393.5" y2="17.5" stroke="#c8a020" stroke-width="3"/>
<circle cx="384.5" cy="8" r="5" fill="#d8ecff" stroke="#3a78c8" stroke-width="1.4"/>
<rect x="381.5" y="7" width="6" height="2" fill="#3a78c8"/>
</g>
<rect x="407" y="2" width="8" height="8" fill="#2e9a2e"/>
<rect x="408" y="5" width="6" height="1" fill="#fff"/>
<rect x="408" y="7" width="6" height="1" fill="#fff"/>
<rect x="408" y="5" width="1" height="3" fill="#fff"/>
<rect x="413" y="5" width="1" height="3" fill="#fff"/>
<rect x="415" y="2" width="8" height="8" fill="#2e5ec8"/>
<rect x="416" y="5" width="6" height="1" fill="#fff"/>
<rect x="416" y="7" width="6" height="1" fill="#fff"/>
<rect x="416" y="5" width="1" height="3" fill="#fff"/>
<rect x="421" y="5" width="1" height="3" fill="#fff"/>
<rect x="407" y="10" width="8" height="8" fill="#2e5ec8"/>
<rect x="408" y="13" width="6" height="1" fill="#fff"/>
<rect x="408" y="15" width="6" height="1" fill="#fff"/>
<rect x="408" y="13" width="1" height="3" fill="#fff"/>
<rect x="413" y="13" width="1" height="3" fill="#fff"/>
<rect x="415" y="10" width="8" height="8" fill="#2e9a2e"/>
<rect x="416" y="13" width="6" height="1" fill="#fff"/>
<rect x="416" y="15" width="6" height="1" fill="#fff"/>
<rect x="416" y="13" width="1" height="3" fill="#fff"/>
<rect x="421" y="13" width="1" height="3" fill="#fff"/>
<rect x="432" y="1" width="1" height="19" fill="#a8a8a8"/>
<rect x="437" y="1" width="1" height="19" fill="#c8c8c8"/>
<rect x="438" y="0" width="24" height="21" fill="#f8f8f8"/>
<rect x="445" y="4" width="1" height="14" fill="#505050"/>
<rect x="443" y="15" width="14" height="1" fill="#505050"/>
<polygon points="443.5,6 447.5,6 445.5,3.5" fill="#505050" shape-rendering="auto"/>
<polygon points="455,13.5 455,17.5 457.5,15.5" fill="#505050" shape-rendering="auto"/>
<polygon points="450.5,6.5 450.5,12.5 454.5,9.5" fill="#2ec82e" stroke="#1a8a1a" stroke-width="0.8" shape-rendering="auto"/>
<rect x="465" y="1" width="1" height="19" fill="#a8a8a8"/>
<rect x="466" y="0" width="24" height="21" fill="#f8f8f8"/>
<rect x="473" y="4" width="1" height="14" fill="#505050"/>
<rect x="471" y="15" width="14" height="1" fill="#505050"/>
<polygon points="471.5,6 475.5,6 473.5,3.5" fill="#505050" shape-rendering="auto"/>
<polygon points="483,13.5 483,17.5 485.5,15.5" fill="#505050" shape-rendering="auto"/>
<rect x="479" y="4" width="1" height="10" fill="#2c64c8"/>
<polygon points="480.5,9.5 485,6.5 485,12.5" fill="#e05a10" shape-rendering="auto"/>
<rect x="494" y="1" width="1" height="19" fill="#a8a8a8"/>
<g shape-rendering="auto">
<path d="M504.5,2.5 h9 l2.5,2.5 v10 h-11.5 z" fill="#fff" stroke="#666" stroke-width="1"/>
<path d="M507.5,13 v-7 q0,-1.5 2,-1.5 M506.5,8.5 h3" fill="none" stroke="#444" stroke-width="1"/>
<path d="M512,10 h3 v3.5 h3.5 v3 h-3.5 v3.5 h-3 v-3.5 h-3.5 v-3 h3.5 z" fill="#2cc02c" stroke="#138013" stroke-width="0.8"/>
</g>
<polygon points="526,9 531.5,9 528.75,12" fill="#000" shape-rendering="auto"/>
<g shape-rendering="auto">
<circle cx="550" cy="10" r="7.8" fill="#2a6ad0" stroke="#1a4a9a" stroke-width="0.8"/>
<circle cx="550" cy="10" r="5.3" fill="#f4f8ff"/>
<path d="M550,6.5 v3.5 h2.8" fill="none" stroke="#333" stroke-width="1"/>
</g>
<polygon points="565,9 570.5,9 567.75,12" fill="#000" shape-rendering="auto"/>
<g shape-rendering="auto">
<rect x="581.5" y="3.5" width="15" height="13" fill="#fff" stroke="#3a70c0" stroke-width="1"/>
<rect x="582" y="4" width="14" height="2" fill="#5a8ad8"/>
<path d="M583,9.5 l3,-1 2,1 3,-1.5 2,1 2,-1" fill="none" stroke="#b83a1a" stroke-width="1"/>
<path d="M583,14.5 l3,-1.5 2,1 3,-2 2,1.5 2,-1" fill="none" stroke="#2a9a2a" stroke-width="1"/>
<line x1="582" y1="11.5" x2="596" y2="11.5" stroke="#3a70c0" stroke-width="1"/>
</g>
<polygon points="604,9 609.5,9 606.75,12" fill="#000" shape-rendering="auto"/>
<rect x="615" y="1" width="1" height="19" fill="#a8a8a8"/>
<rect x="619" y="1" width="3" height="1" fill="#b0b0b0"/>
<rect x="619" y="3" width="3" height="1" fill="#b0b0b0"/>
<rect x="619" y="5" width="3" height="1" fill="#b0b0b0"/>
<rect x="619" y="7" width="3" height="1" fill="#b0b0b0"/>
<rect x="619" y="9" width="3" height="1" fill="#b0b0b0"/>
<rect x="619" y="11" width="3" height="1" fill="#b0b0b0"/>
<rect x="619" y="13" width="3" height="1" fill="#b0b0b0"/>
<rect x="619" y="15" width="3" height="1" fill="#b0b0b0"/>
<rect x="619" y="17" width="3" height="1" fill="#b0b0b0"/>
<rect x="619" y="19" width="3" height="1" fill="#b0b0b0"/>
<rect x="625" y="1" width="1" height="19" fill="#a8a8a8"/>
<rect x="626" y="0" width="25" height="21" fill="#f8f8f8"/>
<polygon points="633,3 633,15 636,12.5 638.5,17 640.5,16 638,11.5 641.5,11" fill="#404040" shape-rendering="auto"/>
<rect x="658" y="10" width="6" height="1" fill="#505050"/>
<rect x="667" y="10" width="6" height="1" fill="#505050"/>
<rect x="665" y="3" width="1" height="6" fill="#505050"/>
<rect x="665" y="12" width="1" height="6" fill="#505050"/>
<rect x="665" y="10" width="1" height="1" fill="#909090"/>
<rect x="682" y="1" width="1" height="19" fill="#a8a8a8"/>
<rect x="699" y="4" width="1" height="13" fill="#505050"/>
<rect x="722" y="10" width="12" height="1" fill="#505050"/>
<line x1="750" y1="17" x2="762" y2="5" stroke="#505050" stroke-width="1.1" shape-rendering="auto"/>
<g shape-rendering="auto" stroke="#505050" fill="none" stroke-width="1">
<path d="M776,15 l10,-11 M779,18 l10,-11 M778,13 l2,2 M781,10 l2,2 M784,7 l2,2"/>
</g>
<text x="787" y="19" font-family='"Liberation Sans", sans-serif' font-size="7" fill="#505050" text-anchor="start" font-weight="bold">E</text>
<rect x="804" y="3" width="1" height="1" fill="#505050"/>
<rect x="806" y="3" width="1" height="1" fill="#505050"/>
<rect x="808" y="3" width="1" height="1" fill="#505050"/>
<rect x="810" y="3" width="1" height="1" fill="#505050"/>
<rect x="812" y="3" width="1" height="1" fill="#505050"/>
<rect x="814" y="3" width="1" height="1" fill="#505050"/>
<rect x="816" y="3" width="1" height="1" fill="#505050"/>
<rect x="804" y="7" width="1" height="1" fill="#505050"/>
<rect x="806" y="7" width="1" height="1" fill="#505050"/>
<rect x="808" y="7" width="1" height="1" fill="#505050"/>
<rect x="810" y="7" width="1" height="1" fill="#505050"/>
<rect x="812" y="7" width="1" height="1" fill="#505050"/>
<rect x="814" y="7" width="1" height="1" fill="#505050"/>
<rect x="816" y="7" width="1" height="1" fill="#505050"/>
<rect x="804" y="11" width="1" height="1" fill="#505050"/>
<rect x="806" y="11" width="1" height="1" fill="#505050"/>
<rect x="808" y="11" width="1" height="1" fill="#505050"/>
<rect x="810" y="11" width="1" height="1" fill="#505050"/>
<rect x="812" y="11" width="1" height="1" fill="#505050"/>
<rect x="814" y="11" width="1" height="1" fill="#505050"/>
<rect x="816" y="11" width="1" height="1" fill="#505050"/>
<rect x="804" y="15" width="1" height="1" fill="#505050"/>
<rect x="806" y="15" width="1" height="1" fill="#505050"/>
<rect x="808" y="15" width="1" height="1" fill="#505050"/>
<rect x="810" y="15" width="1" height="1" fill="#505050"/>
<text x="812" y="19.5" font-family='"Liberation Sans", sans-serif' font-size="8" fill="#505050" text-anchor="start" font-weight="bold">F</text>
<text x="835.5" y="15" font-family='"Liberation Sans", sans-serif' font-size="12" fill="#606060" text-anchor="start" font-weight="bold">A</text>
<rect x="861.5" y="3.5" width="12" height="13" fill="none" stroke="#505050" stroke-width="1" stroke-dasharray="1 1"/>
<text x="863.5" y="14.5" font-family='"Liberation Sans", sans-serif' font-size="11" fill="#505050" text-anchor="start" font-weight="bold">T</text>
<g shape-rendering="auto" fill="#505050">
<polygon points="889,7 892,4 895,7 892,10"/>
<polygon points="897,14 900,11 903,14 900,17"/>
<path d="M890,10 l3,3 5,-4" fill="none" stroke="#505050" stroke-width="1.4"/>
</g>
<polygon points="909.5,9 915.0,9 912.25,12" fill="#000" shape-rendering="auto"/>
<rect x="921" y="1" width="1" height="19" fill="#a8a8a8"/>
<rect x="925" y="1" width="3" height="1" fill="#b0b0b0"/>
<rect x="925" y="3" width="3" height="1" fill="#b0b0b0"/>
<rect x="925" y="5" width="3" height="1" fill="#b0b0b0"/>
<rect x="925" y="7" width="3" height="1" fill="#b0b0b0"/>
<rect x="925" y="9" width="3" height="1" fill="#b0b0b0"/>
<rect x="925" y="11" width="3" height="1" fill="#b0b0b0"/>
<rect x="925" y="13" width="3" height="1" fill="#b0b0b0"/>
<rect x="925" y="15" width="3" height="1" fill="#b0b0b0"/>
<rect x="925" y="17" width="3" height="1" fill="#b0b0b0"/>
<rect x="925" y="19" width="3" height="1" fill="#b0b0b0"/>
<rect x="1072" y="0" width="25" height="21" fill="#f8f8f8"/>
<rect x="1071" y="1" width="1" height="19" fill="#a8a8a8"/>
<rect x="1182" y="1" width="1" height="19" fill="#a8a8a8"/>
<text x="936.7" y="14" font-family='"Liberation Sans", sans-serif' font-size="9" fill="#404040" text-anchor="start">M1</text>
<text x="964.4" y="14" font-family='"Liberation Sans", sans-serif' font-size="9" fill="#404040" text-anchor="start">M5</text>
<text x="990.9" y="14" font-family='"Liberation Sans", sans-serif' font-size="9" fill="#404040" text-anchor="start">M15</text>
<text x="1018.6" y="14" font-family='"Liberation Sans", sans-serif' font-size="9" fill="#404040" text-anchor="start">M30</text>
<text x="1049.5" y="14" font-family='"Liberation Sans", sans-serif' font-size="9" fill="#404040" text-anchor="start">H1</text>
<text x="1076.6" y="14" font-family='"Liberation Sans", sans-serif' font-size="9" fill="#404040" text-anchor="start">H4</text>
<text x="1105.5" y="14" font-family='"Liberation Sans", sans-serif' font-size="9" fill="#404040" text-anchor="start">D1</text>
<text x="1133.2" y="14" font-family='"Liberation Sans", sans-serif' font-size="9" fill="#404040" text-anchor="start">W1</text>
<text x="1159.7" y="14" font-family='"Liberation Sans", sans-serif' font-size="9" fill="#404040" text-anchor="start">MN</text>
<g shape-rendering="auto">
<circle cx="1652.6" cy="7.3" r="3.9" fill="#f0f4ff" stroke="#2a64d0" stroke-width="1.3"/>
<line x1="1649.8" y1="10.2" x2="1645.6" y2="14.6" stroke="#2a64d0" stroke-width="2.2"/>
</g>
<g shape-rendering="auto">
<ellipse cx="1675" cy="12.3" rx="5.6" ry="4.6" fill="#e6e8f0" stroke="#b0b0b8" stroke-width="0.8"/>
<polygon points="1672,15.5 1673,19 1676,16" fill="#c8c8d0"/>
<circle cx="1683.6" cy="7.3" r="8" fill="#e03a1c"/>
</g>
<text x="1681.2" y="11.5" font-family='"Liberation Sans", sans-serif' font-size="10" fill="#fff" text-anchor="start" shape-rendering="auto">1</text>
</g>
</svg></body></html>
